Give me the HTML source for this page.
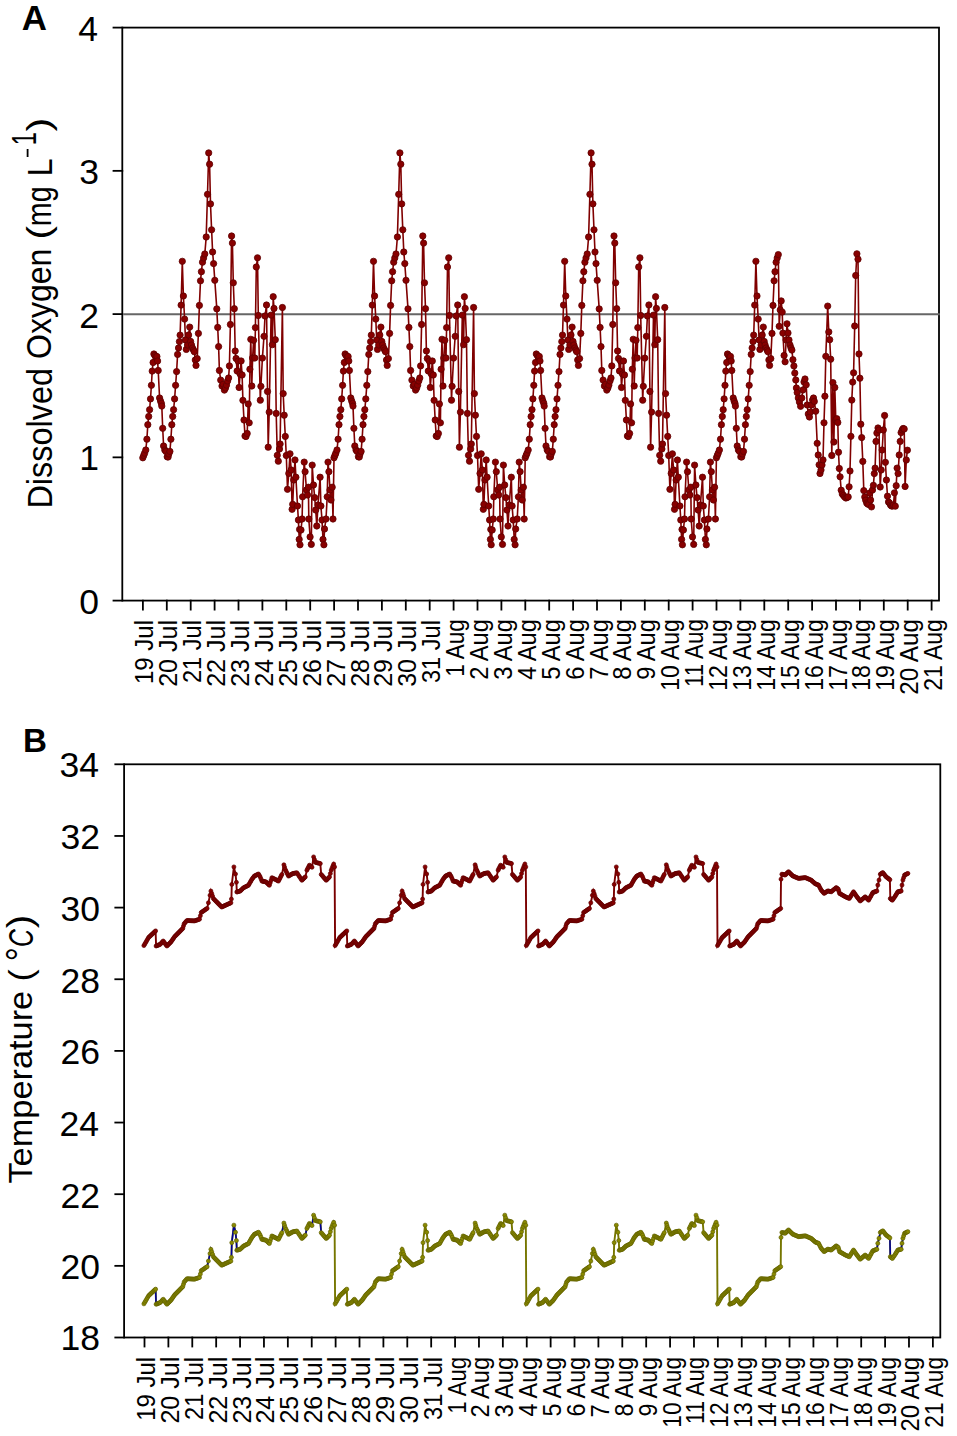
<!DOCTYPE html><html><head><meta charset="utf-8"><style>html,body{margin:0;padding:0;background:#fff;}svg{display:block;}</style></head><body>
<svg width="957" height="1436" viewBox="0 0 957 1436"><rect width="957" height="1436" fill="#fff"/>
<g stroke="#000" stroke-width="1.8" fill="none" stroke-linecap="square">
<rect x="122.3" y="27.6" width="816.7" height="573"/>
<line x1="113.5" y1="27.6" x2="122.3" y2="27.6"/>
<line x1="113.5" y1="170.85" x2="122.3" y2="170.85"/>
<line x1="113.5" y1="314.1" x2="122.3" y2="314.1"/>
<line x1="113.5" y1="457.35" x2="122.3" y2="457.35"/>
<line x1="113.5" y1="600.6" x2="122.3" y2="600.6"/>
<line x1="142.9" y1="600.6" x2="142.9" y2="609.6"/>
<line x1="166.8" y1="600.6" x2="166.8" y2="609.6"/>
<line x1="190.7" y1="600.6" x2="190.7" y2="609.6"/>
<line x1="214.6" y1="600.6" x2="214.6" y2="609.6"/>
<line x1="238.5" y1="600.6" x2="238.5" y2="609.6"/>
<line x1="262.4" y1="600.6" x2="262.4" y2="609.6"/>
<line x1="286.3" y1="600.6" x2="286.3" y2="609.6"/>
<line x1="310.2" y1="600.6" x2="310.2" y2="609.6"/>
<line x1="334.1" y1="600.6" x2="334.1" y2="609.6"/>
<line x1="358" y1="600.6" x2="358" y2="609.6"/>
<line x1="381.9" y1="600.6" x2="381.9" y2="609.6"/>
<line x1="405.8" y1="600.6" x2="405.8" y2="609.6"/>
<line x1="429.7" y1="600.6" x2="429.7" y2="609.6"/>
<line x1="453.6" y1="600.6" x2="453.6" y2="609.6"/>
<line x1="477.5" y1="600.6" x2="477.5" y2="609.6"/>
<line x1="501.4" y1="600.6" x2="501.4" y2="609.6"/>
<line x1="525.3" y1="600.6" x2="525.3" y2="609.6"/>
<line x1="549.2" y1="600.6" x2="549.2" y2="609.6"/>
<line x1="573.1" y1="600.6" x2="573.1" y2="609.6"/>
<line x1="597" y1="600.6" x2="597" y2="609.6"/>
<line x1="620.9" y1="600.6" x2="620.9" y2="609.6"/>
<line x1="644.8" y1="600.6" x2="644.8" y2="609.6"/>
<line x1="668.7" y1="600.6" x2="668.7" y2="609.6"/>
<line x1="692.6" y1="600.6" x2="692.6" y2="609.6"/>
<line x1="716.5" y1="600.6" x2="716.5" y2="609.6"/>
<line x1="740.4" y1="600.6" x2="740.4" y2="609.6"/>
<line x1="764.3" y1="600.6" x2="764.3" y2="609.6"/>
<line x1="788.2" y1="600.6" x2="788.2" y2="609.6"/>
<line x1="812.1" y1="600.6" x2="812.1" y2="609.6"/>
<line x1="836" y1="600.6" x2="836" y2="609.6"/>
<line x1="859.9" y1="600.6" x2="859.9" y2="609.6"/>
<line x1="883.8" y1="600.6" x2="883.8" y2="609.6"/>
<line x1="907.7" y1="600.6" x2="907.7" y2="609.6"/>
<line x1="931.6" y1="600.6" x2="931.6" y2="609.6"/>
</g>
<line x1="123.2" y1="314.2" x2="939.9" y2="314.2" stroke="#666" stroke-width="2"/>
<path d="M142.8 457.8 L143.7 455.5 L144.6 453.2 L145.8 450 L146.9 439.2 L147.8 424.7 L148.7 416.5 L149.6 409.7 L150.5 398.9 L151.4 385.3 L152.2 371.1 L153.1 362.5 L153.9 354 L154.9 355.5 L155.9 357 L156.9 356.5 L157.6 361 L158.2 370.5 L159.6 398 L160.5 401 L161.4 403.4 L161.8 406.1 L162.7 428.3 L163.6 446 L164.8 450 L165.9 451.4 L167.2 456.8 L168.1 457 L168.8 454 L169.9 451.4 L170.9 439.2 L171.8 424.7 L172.7 416.5 L173.6 409.7 L174.6 398.9 L175.6 385.3 L176.6 371.6 L177.6 354.4 L178.5 348 L179.4 341.6 L180.1 335.1 L181.1 305.1 L182.3 261.3 L183.4 296 L184.6 319.1 L185.5 340 L186.3 349.4 L187.5 345 L188.6 335 L189.7 327.1 L190.6 341.4 L191.5 345 L192.5 348 L193.5 350 L194.3 351.7 L195.3 360 L196 365.4 L197.2 358.6 L198.4 333.4 L199.4 305.4 L200.5 280.8 L201.4 271.7 L202.5 262.2 L203.6 258 L204.8 254 L206.2 237 L207.5 194.3 L208.7 152.9 L209.6 164.2 L210.5 203.9 L211.6 229.8 L212.6 252 L213.6 263.6 L214.8 280.3 L216.8 308.9 L217.7 327.4 L218.6 346.6 L219.4 370.5 L220.7 380.1 L222 386 L223.2 384.3 L224.4 390.1 L225.5 388 L226.5 385.1 L227.6 381 L228.6 378 L229.4 365.9 L230.4 324.5 L231.6 236 L232.4 243.1 L233.3 282.8 L234.3 308.7 L235.2 351 L236.1 358.5 L237.1 371 L238.1 361 L239.1 387.5 L240.1 374 L241.1 361 L242.1 375 L242.9 400.3 L244 420 L245 436 L246 436.5 L247.2 433.5 L248.2 404 L249.2 422.8 L249.9 369.2 L250.8 339.3 L251.8 386 L252.6 358 L253.6 340.3 L254.8 358 L255.4 327.6 L256.3 267 L257.5 257.8 L258.3 315.5 L260.3 400.2 L260.9 386.3 L262.4 358.1 L264 336.3 L265 316 L266.5 305 L267.5 391.5 L268.2 447.2 L269.2 412.1 L271.1 315.1 L272.4 344.7 L273.2 296.7 L274 308.4 L275.3 339.7 L276.2 413.4 L277.3 455.3 L278.3 461.2 L279.5 449 L280.1 444 L282.4 307.5 L283.2 393.6 L284.2 415.2 L285.3 436.4 L286.3 455.5 L287.5 489.3 L288.8 473.4 L290 453.8 L291.2 470 L292.1 509.3 L292.7 504.3 L293.7 480 L295 460 L295.9 477.2 L297.5 506 L298.4 520 L299.2 539.4 L299.6 529.4 L300 544.8 L301 530 L302.1 519 L302.6 496.8 L304.2 462.1 L305.1 471.7 L306.5 490 L307.5 495 L308.4 487.2 L308.8 519 L310.1 536.9 L311.3 544.4 L312.2 465.1 L313.5 485 L314.7 497.6 L315.7 510 L316.8 526 L318 505 L320.1 477.2 L320.9 506 L322 520 L323 539.4 L323.9 544.8 L324.5 529 L326 519 L327.2 496.8 L328 462.1 L328.9 471.7 L330 490 L331 500 L332.2 487.2 L333 519 L334 457.8 L334.9 455.5 L335.8 453.2 L337 450 L338.1 439.2 L339 424.7 L339.9 416.5 L340.8 409.7 L341.7 398.9 L342.6 385.3 L343.4 371.1 L344.3 362.5 L345.1 354 L346.1 355.5 L347.1 357 L348.1 356.5 L348.8 361 L349.4 370.5 L350.8 398 L351.7 401 L352.6 403.4 L353 406.1 L353.9 428.3 L354.8 446 L356 450 L357.1 451.4 L358.4 456.8 L359.3 457 L360 454 L361.1 451.4 L362.1 439.2 L363 424.7 L363.9 416.5 L364.8 409.7 L365.8 398.9 L366.8 385.3 L367.8 371.6 L368.8 354.4 L369.7 348 L370.6 341.6 L371.3 335.1 L372.3 305.1 L373.5 261.3 L374.6 296 L375.8 319.1 L376.7 340 L377.5 349.4 L378.7 345 L379.8 335 L380.9 327.1 L381.8 341.4 L382.7 345 L383.7 348 L384.7 350 L385.5 351.7 L386.5 360 L387.2 365.4 L388.4 358.6 L389.6 333.4 L390.6 305.4 L391.7 280.8 L392.6 271.7 L393.7 262.2 L394.8 258 L396 254 L397.4 237 L398.7 194.3 L399.9 152.9 L400.8 164.2 L401.7 203.9 L402.8 229.8 L403.8 252 L404.8 263.6 L406 280.3 L408 308.9 L408.9 327.4 L409.8 346.6 L410.6 370.5 L411.9 380.1 L413.2 386 L414.4 384.3 L415.6 390.1 L416.7 388 L417.7 385.1 L418.8 381 L419.8 378 L420.6 365.9 L421.6 324.5 L422.8 236 L423.6 243.1 L424.5 282.8 L425.5 308.7 L426.4 351 L427.3 358.5 L428.3 371 L429.3 361 L430.3 387.5 L431.3 374 L432.3 361 L433.3 375 L434.1 400.3 L435.2 420 L436.2 436 L437.2 436.5 L438.4 433.5 L439.4 404 L440.4 422.8 L441.1 369.2 L442 339.3 L443 386 L443.8 358 L444.8 340.3 L446 358 L446.6 327.6 L447.5 267 L448.7 257.8 L449.5 315.5 L451.5 400.2 L452.1 386.3 L453.6 358.1 L455.2 336.3 L456.2 316 L457.7 305 L458.7 391.5 L459.4 447.2 L460.4 412.1 L462.3 315.1 L463.6 344.7 L464.4 296.7 L465.2 308.4 L466.5 339.7 L467.4 413.4 L468.5 455.3 L469.5 461.2 L470.7 449 L471.3 444 L473.6 307.5 L474.4 393.6 L475.4 415.2 L476.5 436.4 L477.5 455.5 L478.7 489.3 L480 473.4 L481.2 453.8 L482.4 470 L483.3 509.3 L483.9 504.3 L484.9 480 L486.2 460 L487.1 477.2 L488.7 506 L489.6 520 L490.4 539.4 L490.8 529.4 L491.2 544.8 L492.2 530 L493.3 519 L493.8 496.8 L495.4 462.1 L496.3 471.7 L497.7 490 L498.7 495 L499.6 487.2 L500 519 L501.3 536.9 L502.5 544.4 L503.4 465.1 L504.7 485 L505.9 497.6 L506.9 510 L508 526 L509.2 505 L511.3 477.2 L512.1 506 L513.2 520 L514.2 539.4 L515.1 544.8 L515.7 529 L517.2 519 L518.4 496.8 L519.2 462.1 L520.1 471.7 L521.2 490 L522.2 500 L523.4 487.2 L524.2 519 L525.2 457.8 L526.1 455.5 L527 453.2 L528.2 450 L529.3 439.2 L530.2 424.7 L531.1 416.5 L532 409.7 L532.9 398.9 L533.8 385.3 L534.6 371.1 L535.5 362.5 L536.3 354 L537.3 355.5 L538.3 357 L539.3 356.5 L540 361 L540.6 370.5 L542 398 L542.9 401 L543.8 403.4 L544.2 406.1 L545.1 428.3 L546 446 L547.2 450 L548.3 451.4 L549.6 456.8 L550.5 457 L551.2 454 L552.3 451.4 L553.3 439.2 L554.2 424.7 L555.1 416.5 L556 409.7 L557 398.9 L558 385.3 L559 371.6 L560 354.4 L560.9 348 L561.8 341.6 L562.5 335.1 L563.5 305.1 L564.7 261.3 L565.8 296 L567 319.1 L567.9 340 L568.7 349.4 L569.9 345 L571 335 L572.1 327.1 L573 341.4 L573.9 345 L574.9 348 L575.9 350 L576.7 351.7 L577.7 360 L578.4 365.4 L579.6 358.6 L580.8 333.4 L581.8 305.4 L582.9 280.8 L583.8 271.7 L584.9 262.2 L586 258 L587.2 254 L588.6 237 L589.9 194.3 L591.1 152.9 L592 164.2 L592.9 203.9 L594 229.8 L595 252 L596 263.6 L597.2 280.3 L599.2 308.9 L600.1 327.4 L601 346.6 L601.8 370.5 L603.1 380.1 L604.4 386 L605.6 384.3 L606.8 390.1 L607.9 388 L608.9 385.1 L610 381 L611 378 L611.8 365.9 L612.8 324.5 L614 236 L614.8 243.1 L615.7 282.8 L616.7 308.7 L617.6 351 L618.5 358.5 L619.5 371 L620.5 361 L621.5 387.5 L622.5 374 L623.5 361 L624.5 375 L625.3 400.3 L626.4 420 L627.4 436 L628.4 436.5 L629.6 433.5 L630.6 404 L631.6 422.8 L632.3 369.2 L633.2 339.3 L634.2 386 L635 358 L636 340.3 L637.2 358 L637.8 327.6 L638.7 267 L639.9 257.8 L640.7 315.5 L642.7 400.2 L643.3 386.3 L644.8 358.1 L646.4 336.3 L647.4 316 L648.9 305 L649.9 391.5 L650.6 447.2 L651.6 412.1 L653.5 315.1 L654.8 344.7 L655.6 296.7 L656.4 308.4 L657.7 339.7 L658.6 413.4 L659.7 455.3 L660.7 461.2 L661.9 449 L662.5 444 L664.8 307.5 L665.6 393.6 L666.6 415.2 L667.7 436.4 L668.7 455.5 L669.9 489.3 L671.2 473.4 L672.4 453.8 L673.6 470 L674.5 509.3 L675.1 504.3 L676.1 480 L677.4 460 L678.3 477.2 L679.9 506 L680.8 520 L681.6 539.4 L682 529.4 L682.4 544.8 L683.4 530 L684.5 519 L685 496.8 L686.6 462.1 L687.5 471.7 L688.9 490 L689.9 495 L690.8 487.2 L691.2 519 L692.5 536.9 L693.7 544.4 L694.6 465.1 L695.9 485 L697.1 497.6 L698.1 510 L699.2 526 L700.4 505 L702.5 477.2 L703.3 506 L704.4 520 L705.4 539.4 L706.3 544.8 L706.9 529 L708.4 519 L709.6 496.8 L710.4 462.1 L711.3 471.7 L712.4 490 L713.4 500 L714.6 487.2 L715.4 519 L716.4 457.8 L717.3 455.5 L718.2 453.2 L719.4 450 L720.5 439.2 L721.4 424.7 L722.3 416.5 L723.2 409.7 L724.1 398.9 L725 385.3 L725.8 371.1 L726.7 362.5 L727.5 354 L728.5 355.5 L729.5 357 L730.5 356.5 L731.2 361 L731.8 370.5 L733.2 398 L734.1 401 L735 403.4 L735.4 406.1 L736.3 428.3 L737.2 446 L738.4 450 L739.5 451.4 L740.8 456.8 L741.7 457 L742.4 454 L743.5 451.4 L744.5 439.2 L745.4 424.7 L746.3 416.5 L747.2 409.7 L748.2 398.9 L749.2 385.3 L750.2 371.6 L751.2 354.4 L752.1 348 L753 341.6 L753.7 335.1 L754.7 305.1 L755.9 261.3 L757 296 L758.2 319.1 L759.1 340 L759.9 349.4 L761.1 345 L762.2 335 L763.3 327.1 L764.2 341.4 L765.1 345 L766.1 348 L767.1 350 L767.9 351.7 L768.9 360 L769.6 365.4 L770.8 358.6 L772 333.4 L773 305.4 L774.1 280.8 L775 271.7 L776.1 262.2 L777.2 258 L778.3 254.6 L779.2 326.3 L780.2 310 L781.2 300.9 L782.2 312.1 L782.9 333.1 L784.1 355.5 L785.1 361.8 L786.1 340 L787 323.8 L788 333 L789 340 L790 345 L791 348 L791.9 350.1 L792.9 359.7 L793.9 366 L794.8 373.1 L795.8 380 L796.4 388 L797.2 392.6 L798.3 398 L799.4 402 L800.6 406.3 L801.8 398 L802.9 390 L804 382 L805 379 L806.2 384.8 L807.2 405 L808.3 414 L809.4 417 L810.5 412 L811.6 405 L812.6 400 L813.5 398 L814.3 401.4 L815.7 411.2 L817.2 443.3 L818.2 455 L819.1 464.8 L820 473.5 L821 470 L822 465 L823 459.9 L824 422.8 L824.9 396.2 L825.8 356.3 L827.7 306.1 L828.8 331.9 L829.7 339.7 L830.7 359.2 L831.8 455.5 L832.9 382.6 L833.9 442 L834.8 387.5 L835.8 420 L836.8 418.7 L837.8 422.5 L838.5 452.2 L839.3 468.5 L840.1 476.8 L841.2 490.2 L842.3 494 L843.5 495.5 L844.7 497 L845.9 498 L847.1 497.5 L848.2 496.9 L849.1 486.8 L850 471 L850.9 436.3 L851.8 400.1 L852.7 382.1 L853.6 372.8 L854.7 326 L855.7 275.5 L856.9 253.8 L858 259.2 L859 354 L859.9 378.2 L860.8 424.2 L861.7 437.6 L862.8 461.4 L863.8 490.6 L864.8 497 L865.7 500.2 L866.7 503 L867.7 504 L868.7 504.4 L869.7 493 L870.6 500 L871.5 506.9 L872.5 490 L873.4 485.3 L874.3 473.6 L875.1 468.1 L876 441.4 L876.9 433 L878 428 L879 430 L880.2 487 L881.2 470 L882.2 450 L883.3 430 L884.6 415.5 L885.4 462.3 L886.4 480 L887.5 496.2 L888.5 502 L889.5 503 L890.5 505 L891.5 506 L892.5 506 L893.5 505 L894.4 492.8 L895.3 506.2 L896.2 485.7 L897.1 468.1 L898.1 473.6 L899.2 455 L900.2 441.4 L901.1 432.6 L902.2 430 L903.2 428.5 L904.2 429 L905.1 486.5 L906.3 460 L907.4 450.2" fill="none" stroke="#800000" stroke-width="1.6" stroke-linejoin="round"/>
<g fill="#880000" stroke="#5e0000" stroke-width="0.8"><circle cx="142.8" cy="457.8" r="3.15"/><circle cx="143.7" cy="455.5" r="3.15"/><circle cx="144.6" cy="453.2" r="3.15"/><circle cx="145.8" cy="450" r="3.15"/><circle cx="146.9" cy="439.2" r="3.15"/><circle cx="147.8" cy="424.7" r="3.15"/><circle cx="148.7" cy="416.5" r="3.15"/><circle cx="149.6" cy="409.7" r="3.15"/><circle cx="150.5" cy="398.9" r="3.15"/><circle cx="151.4" cy="385.3" r="3.15"/><circle cx="152.2" cy="371.1" r="3.15"/><circle cx="153.1" cy="362.5" r="3.15"/><circle cx="153.9" cy="354" r="3.15"/><circle cx="154.9" cy="355.5" r="3.15"/><circle cx="155.9" cy="357" r="3.15"/><circle cx="156.9" cy="356.5" r="3.15"/><circle cx="157.6" cy="361" r="3.15"/><circle cx="158.2" cy="370.5" r="3.15"/><circle cx="159.6" cy="398" r="3.15"/><circle cx="160.5" cy="401" r="3.15"/><circle cx="161.4" cy="403.4" r="3.15"/><circle cx="161.8" cy="406.1" r="3.15"/><circle cx="162.7" cy="428.3" r="3.15"/><circle cx="163.6" cy="446" r="3.15"/><circle cx="164.8" cy="450" r="3.15"/><circle cx="165.9" cy="451.4" r="3.15"/><circle cx="167.2" cy="456.8" r="3.15"/><circle cx="168.1" cy="457" r="3.15"/><circle cx="168.8" cy="454" r="3.15"/><circle cx="169.9" cy="451.4" r="3.15"/><circle cx="170.9" cy="439.2" r="3.15"/><circle cx="171.8" cy="424.7" r="3.15"/><circle cx="172.7" cy="416.5" r="3.15"/><circle cx="173.6" cy="409.7" r="3.15"/><circle cx="174.6" cy="398.9" r="3.15"/><circle cx="175.6" cy="385.3" r="3.15"/><circle cx="176.6" cy="371.6" r="3.15"/><circle cx="177.6" cy="354.4" r="3.15"/><circle cx="178.5" cy="348" r="3.15"/><circle cx="179.4" cy="341.6" r="3.15"/><circle cx="180.1" cy="335.1" r="3.15"/><circle cx="181.1" cy="305.1" r="3.15"/><circle cx="182.3" cy="261.3" r="3.15"/><circle cx="183.4" cy="296" r="3.15"/><circle cx="184.6" cy="319.1" r="3.15"/><circle cx="185.5" cy="340" r="3.15"/><circle cx="186.3" cy="349.4" r="3.15"/><circle cx="187.5" cy="345" r="3.15"/><circle cx="188.6" cy="335" r="3.15"/><circle cx="189.7" cy="327.1" r="3.15"/><circle cx="190.6" cy="341.4" r="3.15"/><circle cx="191.5" cy="345" r="3.15"/><circle cx="192.5" cy="348" r="3.15"/><circle cx="193.5" cy="350" r="3.15"/><circle cx="194.3" cy="351.7" r="3.15"/><circle cx="195.3" cy="360" r="3.15"/><circle cx="196" cy="365.4" r="3.15"/><circle cx="197.2" cy="358.6" r="3.15"/><circle cx="198.4" cy="333.4" r="3.15"/><circle cx="199.4" cy="305.4" r="3.15"/><circle cx="200.5" cy="280.8" r="3.15"/><circle cx="201.4" cy="271.7" r="3.15"/><circle cx="202.5" cy="262.2" r="3.15"/><circle cx="203.6" cy="258" r="3.15"/><circle cx="204.8" cy="254" r="3.15"/><circle cx="206.2" cy="237" r="3.15"/><circle cx="207.5" cy="194.3" r="3.15"/><circle cx="208.7" cy="152.9" r="3.15"/><circle cx="209.6" cy="164.2" r="3.15"/><circle cx="210.5" cy="203.9" r="3.15"/><circle cx="211.6" cy="229.8" r="3.15"/><circle cx="212.6" cy="252" r="3.15"/><circle cx="213.6" cy="263.6" r="3.15"/><circle cx="214.8" cy="280.3" r="3.15"/><circle cx="216.8" cy="308.9" r="3.15"/><circle cx="217.7" cy="327.4" r="3.15"/><circle cx="218.6" cy="346.6" r="3.15"/><circle cx="219.4" cy="370.5" r="3.15"/><circle cx="220.7" cy="380.1" r="3.15"/><circle cx="222" cy="386" r="3.15"/><circle cx="223.2" cy="384.3" r="3.15"/><circle cx="224.4" cy="390.1" r="3.15"/><circle cx="225.5" cy="388" r="3.15"/><circle cx="226.5" cy="385.1" r="3.15"/><circle cx="227.6" cy="381" r="3.15"/><circle cx="228.6" cy="378" r="3.15"/><circle cx="229.4" cy="365.9" r="3.15"/><circle cx="230.4" cy="324.5" r="3.15"/><circle cx="231.6" cy="236" r="3.15"/><circle cx="232.4" cy="243.1" r="3.15"/><circle cx="233.3" cy="282.8" r="3.15"/><circle cx="234.3" cy="308.7" r="3.15"/><circle cx="235.2" cy="351" r="3.15"/><circle cx="236.1" cy="358.5" r="3.15"/><circle cx="237.1" cy="371" r="3.15"/><circle cx="238.1" cy="361" r="3.15"/><circle cx="239.1" cy="387.5" r="3.15"/><circle cx="240.1" cy="374" r="3.15"/><circle cx="241.1" cy="361" r="3.15"/><circle cx="242.1" cy="375" r="3.15"/><circle cx="242.9" cy="400.3" r="3.15"/><circle cx="244" cy="420" r="3.15"/><circle cx="245" cy="436" r="3.15"/><circle cx="246" cy="436.5" r="3.15"/><circle cx="247.2" cy="433.5" r="3.15"/><circle cx="248.2" cy="404" r="3.15"/><circle cx="249.2" cy="422.8" r="3.15"/><circle cx="249.9" cy="369.2" r="3.15"/><circle cx="250.8" cy="339.3" r="3.15"/><circle cx="251.8" cy="386" r="3.15"/><circle cx="252.6" cy="358" r="3.15"/><circle cx="253.6" cy="340.3" r="3.15"/><circle cx="254.8" cy="358" r="3.15"/><circle cx="255.4" cy="327.6" r="3.15"/><circle cx="256.3" cy="267" r="3.15"/><circle cx="257.5" cy="257.8" r="3.15"/><circle cx="258.3" cy="315.5" r="3.15"/><circle cx="260.3" cy="400.2" r="3.15"/><circle cx="260.9" cy="386.3" r="3.15"/><circle cx="262.4" cy="358.1" r="3.15"/><circle cx="264" cy="336.3" r="3.15"/><circle cx="265" cy="316" r="3.15"/><circle cx="266.5" cy="305" r="3.15"/><circle cx="267.5" cy="391.5" r="3.15"/><circle cx="268.2" cy="447.2" r="3.15"/><circle cx="269.2" cy="412.1" r="3.15"/><circle cx="271.1" cy="315.1" r="3.15"/><circle cx="272.4" cy="344.7" r="3.15"/><circle cx="273.2" cy="296.7" r="3.15"/><circle cx="274" cy="308.4" r="3.15"/><circle cx="275.3" cy="339.7" r="3.15"/><circle cx="276.2" cy="413.4" r="3.15"/><circle cx="277.3" cy="455.3" r="3.15"/><circle cx="278.3" cy="461.2" r="3.15"/><circle cx="279.5" cy="449" r="3.15"/><circle cx="280.1" cy="444" r="3.15"/><circle cx="282.4" cy="307.5" r="3.15"/><circle cx="283.2" cy="393.6" r="3.15"/><circle cx="284.2" cy="415.2" r="3.15"/><circle cx="285.3" cy="436.4" r="3.15"/><circle cx="286.3" cy="455.5" r="3.15"/><circle cx="287.5" cy="489.3" r="3.15"/><circle cx="288.8" cy="473.4" r="3.15"/><circle cx="290" cy="453.8" r="3.15"/><circle cx="291.2" cy="470" r="3.15"/><circle cx="292.1" cy="509.3" r="3.15"/><circle cx="292.7" cy="504.3" r="3.15"/><circle cx="293.7" cy="480" r="3.15"/><circle cx="295" cy="460" r="3.15"/><circle cx="295.9" cy="477.2" r="3.15"/><circle cx="297.5" cy="506" r="3.15"/><circle cx="298.4" cy="520" r="3.15"/><circle cx="299.2" cy="539.4" r="3.15"/><circle cx="299.6" cy="529.4" r="3.15"/><circle cx="300" cy="544.8" r="3.15"/><circle cx="301" cy="530" r="3.15"/><circle cx="302.1" cy="519" r="3.15"/><circle cx="302.6" cy="496.8" r="3.15"/><circle cx="304.2" cy="462.1" r="3.15"/><circle cx="305.1" cy="471.7" r="3.15"/><circle cx="306.5" cy="490" r="3.15"/><circle cx="307.5" cy="495" r="3.15"/><circle cx="308.4" cy="487.2" r="3.15"/><circle cx="308.8" cy="519" r="3.15"/><circle cx="310.1" cy="536.9" r="3.15"/><circle cx="311.3" cy="544.4" r="3.15"/><circle cx="312.2" cy="465.1" r="3.15"/><circle cx="313.5" cy="485" r="3.15"/><circle cx="314.7" cy="497.6" r="3.15"/><circle cx="315.7" cy="510" r="3.15"/><circle cx="316.8" cy="526" r="3.15"/><circle cx="318" cy="505" r="3.15"/><circle cx="320.1" cy="477.2" r="3.15"/><circle cx="320.9" cy="506" r="3.15"/><circle cx="322" cy="520" r="3.15"/><circle cx="323" cy="539.4" r="3.15"/><circle cx="323.9" cy="544.8" r="3.15"/><circle cx="324.5" cy="529" r="3.15"/><circle cx="326" cy="519" r="3.15"/><circle cx="327.2" cy="496.8" r="3.15"/><circle cx="328" cy="462.1" r="3.15"/><circle cx="328.9" cy="471.7" r="3.15"/><circle cx="330" cy="490" r="3.15"/><circle cx="331" cy="500" r="3.15"/><circle cx="332.2" cy="487.2" r="3.15"/><circle cx="333" cy="519" r="3.15"/><circle cx="334" cy="457.8" r="3.15"/><circle cx="334.9" cy="455.5" r="3.15"/><circle cx="335.8" cy="453.2" r="3.15"/><circle cx="337" cy="450" r="3.15"/><circle cx="338.1" cy="439.2" r="3.15"/><circle cx="339" cy="424.7" r="3.15"/><circle cx="339.9" cy="416.5" r="3.15"/><circle cx="340.8" cy="409.7" r="3.15"/><circle cx="341.7" cy="398.9" r="3.15"/><circle cx="342.6" cy="385.3" r="3.15"/><circle cx="343.4" cy="371.1" r="3.15"/><circle cx="344.3" cy="362.5" r="3.15"/><circle cx="345.1" cy="354" r="3.15"/><circle cx="346.1" cy="355.5" r="3.15"/><circle cx="347.1" cy="357" r="3.15"/><circle cx="348.1" cy="356.5" r="3.15"/><circle cx="348.8" cy="361" r="3.15"/><circle cx="349.4" cy="370.5" r="3.15"/><circle cx="350.8" cy="398" r="3.15"/><circle cx="351.7" cy="401" r="3.15"/><circle cx="352.6" cy="403.4" r="3.15"/><circle cx="353" cy="406.1" r="3.15"/><circle cx="353.9" cy="428.3" r="3.15"/><circle cx="354.8" cy="446" r="3.15"/><circle cx="356" cy="450" r="3.15"/><circle cx="357.1" cy="451.4" r="3.15"/><circle cx="358.4" cy="456.8" r="3.15"/><circle cx="359.3" cy="457" r="3.15"/><circle cx="360" cy="454" r="3.15"/><circle cx="361.1" cy="451.4" r="3.15"/><circle cx="362.1" cy="439.2" r="3.15"/><circle cx="363" cy="424.7" r="3.15"/><circle cx="363.9" cy="416.5" r="3.15"/><circle cx="364.8" cy="409.7" r="3.15"/><circle cx="365.8" cy="398.9" r="3.15"/><circle cx="366.8" cy="385.3" r="3.15"/><circle cx="367.8" cy="371.6" r="3.15"/><circle cx="368.8" cy="354.4" r="3.15"/><circle cx="369.7" cy="348" r="3.15"/><circle cx="370.6" cy="341.6" r="3.15"/><circle cx="371.3" cy="335.1" r="3.15"/><circle cx="372.3" cy="305.1" r="3.15"/><circle cx="373.5" cy="261.3" r="3.15"/><circle cx="374.6" cy="296" r="3.15"/><circle cx="375.8" cy="319.1" r="3.15"/><circle cx="376.7" cy="340" r="3.15"/><circle cx="377.5" cy="349.4" r="3.15"/><circle cx="378.7" cy="345" r="3.15"/><circle cx="379.8" cy="335" r="3.15"/><circle cx="380.9" cy="327.1" r="3.15"/><circle cx="381.8" cy="341.4" r="3.15"/><circle cx="382.7" cy="345" r="3.15"/><circle cx="383.7" cy="348" r="3.15"/><circle cx="384.7" cy="350" r="3.15"/><circle cx="385.5" cy="351.7" r="3.15"/><circle cx="386.5" cy="360" r="3.15"/><circle cx="387.2" cy="365.4" r="3.15"/><circle cx="388.4" cy="358.6" r="3.15"/><circle cx="389.6" cy="333.4" r="3.15"/><circle cx="390.6" cy="305.4" r="3.15"/><circle cx="391.7" cy="280.8" r="3.15"/><circle cx="392.6" cy="271.7" r="3.15"/><circle cx="393.7" cy="262.2" r="3.15"/><circle cx="394.8" cy="258" r="3.15"/><circle cx="396" cy="254" r="3.15"/><circle cx="397.4" cy="237" r="3.15"/><circle cx="398.7" cy="194.3" r="3.15"/><circle cx="399.9" cy="152.9" r="3.15"/><circle cx="400.8" cy="164.2" r="3.15"/><circle cx="401.7" cy="203.9" r="3.15"/><circle cx="402.8" cy="229.8" r="3.15"/><circle cx="403.8" cy="252" r="3.15"/><circle cx="404.8" cy="263.6" r="3.15"/><circle cx="406" cy="280.3" r="3.15"/><circle cx="408" cy="308.9" r="3.15"/><circle cx="408.9" cy="327.4" r="3.15"/><circle cx="409.8" cy="346.6" r="3.15"/><circle cx="410.6" cy="370.5" r="3.15"/><circle cx="411.9" cy="380.1" r="3.15"/><circle cx="413.2" cy="386" r="3.15"/><circle cx="414.4" cy="384.3" r="3.15"/><circle cx="415.6" cy="390.1" r="3.15"/><circle cx="416.7" cy="388" r="3.15"/><circle cx="417.7" cy="385.1" r="3.15"/><circle cx="418.8" cy="381" r="3.15"/><circle cx="419.8" cy="378" r="3.15"/><circle cx="420.6" cy="365.9" r="3.15"/><circle cx="421.6" cy="324.5" r="3.15"/><circle cx="422.8" cy="236" r="3.15"/><circle cx="423.6" cy="243.1" r="3.15"/><circle cx="424.5" cy="282.8" r="3.15"/><circle cx="425.5" cy="308.7" r="3.15"/><circle cx="426.4" cy="351" r="3.15"/><circle cx="427.3" cy="358.5" r="3.15"/><circle cx="428.3" cy="371" r="3.15"/><circle cx="429.3" cy="361" r="3.15"/><circle cx="430.3" cy="387.5" r="3.15"/><circle cx="431.3" cy="374" r="3.15"/><circle cx="432.3" cy="361" r="3.15"/><circle cx="433.3" cy="375" r="3.15"/><circle cx="434.1" cy="400.3" r="3.15"/><circle cx="435.2" cy="420" r="3.15"/><circle cx="436.2" cy="436" r="3.15"/><circle cx="437.2" cy="436.5" r="3.15"/><circle cx="438.4" cy="433.5" r="3.15"/><circle cx="439.4" cy="404" r="3.15"/><circle cx="440.4" cy="422.8" r="3.15"/><circle cx="441.1" cy="369.2" r="3.15"/><circle cx="442" cy="339.3" r="3.15"/><circle cx="443" cy="386" r="3.15"/><circle cx="443.8" cy="358" r="3.15"/><circle cx="444.8" cy="340.3" r="3.15"/><circle cx="446" cy="358" r="3.15"/><circle cx="446.6" cy="327.6" r="3.15"/><circle cx="447.5" cy="267" r="3.15"/><circle cx="448.7" cy="257.8" r="3.15"/><circle cx="449.5" cy="315.5" r="3.15"/><circle cx="451.5" cy="400.2" r="3.15"/><circle cx="452.1" cy="386.3" r="3.15"/><circle cx="453.6" cy="358.1" r="3.15"/><circle cx="455.2" cy="336.3" r="3.15"/><circle cx="456.2" cy="316" r="3.15"/><circle cx="457.7" cy="305" r="3.15"/><circle cx="458.7" cy="391.5" r="3.15"/><circle cx="459.4" cy="447.2" r="3.15"/><circle cx="460.4" cy="412.1" r="3.15"/><circle cx="462.3" cy="315.1" r="3.15"/><circle cx="463.6" cy="344.7" r="3.15"/><circle cx="464.4" cy="296.7" r="3.15"/><circle cx="465.2" cy="308.4" r="3.15"/><circle cx="466.5" cy="339.7" r="3.15"/><circle cx="467.4" cy="413.4" r="3.15"/><circle cx="468.5" cy="455.3" r="3.15"/><circle cx="469.5" cy="461.2" r="3.15"/><circle cx="470.7" cy="449" r="3.15"/><circle cx="471.3" cy="444" r="3.15"/><circle cx="473.6" cy="307.5" r="3.15"/><circle cx="474.4" cy="393.6" r="3.15"/><circle cx="475.4" cy="415.2" r="3.15"/><circle cx="476.5" cy="436.4" r="3.15"/><circle cx="477.5" cy="455.5" r="3.15"/><circle cx="478.7" cy="489.3" r="3.15"/><circle cx="480" cy="473.4" r="3.15"/><circle cx="481.2" cy="453.8" r="3.15"/><circle cx="482.4" cy="470" r="3.15"/><circle cx="483.3" cy="509.3" r="3.15"/><circle cx="483.9" cy="504.3" r="3.15"/><circle cx="484.9" cy="480" r="3.15"/><circle cx="486.2" cy="460" r="3.15"/><circle cx="487.1" cy="477.2" r="3.15"/><circle cx="488.7" cy="506" r="3.15"/><circle cx="489.6" cy="520" r="3.15"/><circle cx="490.4" cy="539.4" r="3.15"/><circle cx="490.8" cy="529.4" r="3.15"/><circle cx="491.2" cy="544.8" r="3.15"/><circle cx="492.2" cy="530" r="3.15"/><circle cx="493.3" cy="519" r="3.15"/><circle cx="493.8" cy="496.8" r="3.15"/><circle cx="495.4" cy="462.1" r="3.15"/><circle cx="496.3" cy="471.7" r="3.15"/><circle cx="497.7" cy="490" r="3.15"/><circle cx="498.7" cy="495" r="3.15"/><circle cx="499.6" cy="487.2" r="3.15"/><circle cx="500" cy="519" r="3.15"/><circle cx="501.3" cy="536.9" r="3.15"/><circle cx="502.5" cy="544.4" r="3.15"/><circle cx="503.4" cy="465.1" r="3.15"/><circle cx="504.7" cy="485" r="3.15"/><circle cx="505.9" cy="497.6" r="3.15"/><circle cx="506.9" cy="510" r="3.15"/><circle cx="508" cy="526" r="3.15"/><circle cx="509.2" cy="505" r="3.15"/><circle cx="511.3" cy="477.2" r="3.15"/><circle cx="512.1" cy="506" r="3.15"/><circle cx="513.2" cy="520" r="3.15"/><circle cx="514.2" cy="539.4" r="3.15"/><circle cx="515.1" cy="544.8" r="3.15"/><circle cx="515.7" cy="529" r="3.15"/><circle cx="517.2" cy="519" r="3.15"/><circle cx="518.4" cy="496.8" r="3.15"/><circle cx="519.2" cy="462.1" r="3.15"/><circle cx="520.1" cy="471.7" r="3.15"/><circle cx="521.2" cy="490" r="3.15"/><circle cx="522.2" cy="500" r="3.15"/><circle cx="523.4" cy="487.2" r="3.15"/><circle cx="524.2" cy="519" r="3.15"/><circle cx="525.2" cy="457.8" r="3.15"/><circle cx="526.1" cy="455.5" r="3.15"/><circle cx="527" cy="453.2" r="3.15"/><circle cx="528.2" cy="450" r="3.15"/><circle cx="529.3" cy="439.2" r="3.15"/><circle cx="530.2" cy="424.7" r="3.15"/><circle cx="531.1" cy="416.5" r="3.15"/><circle cx="532" cy="409.7" r="3.15"/><circle cx="532.9" cy="398.9" r="3.15"/><circle cx="533.8" cy="385.3" r="3.15"/><circle cx="534.6" cy="371.1" r="3.15"/><circle cx="535.5" cy="362.5" r="3.15"/><circle cx="536.3" cy="354" r="3.15"/><circle cx="537.3" cy="355.5" r="3.15"/><circle cx="538.3" cy="357" r="3.15"/><circle cx="539.3" cy="356.5" r="3.15"/><circle cx="540" cy="361" r="3.15"/><circle cx="540.6" cy="370.5" r="3.15"/><circle cx="542" cy="398" r="3.15"/><circle cx="542.9" cy="401" r="3.15"/><circle cx="543.8" cy="403.4" r="3.15"/><circle cx="544.2" cy="406.1" r="3.15"/><circle cx="545.1" cy="428.3" r="3.15"/><circle cx="546" cy="446" r="3.15"/><circle cx="547.2" cy="450" r="3.15"/><circle cx="548.3" cy="451.4" r="3.15"/><circle cx="549.6" cy="456.8" r="3.15"/><circle cx="550.5" cy="457" r="3.15"/><circle cx="551.2" cy="454" r="3.15"/><circle cx="552.3" cy="451.4" r="3.15"/><circle cx="553.3" cy="439.2" r="3.15"/><circle cx="554.2" cy="424.7" r="3.15"/><circle cx="555.1" cy="416.5" r="3.15"/><circle cx="556" cy="409.7" r="3.15"/><circle cx="557" cy="398.9" r="3.15"/><circle cx="558" cy="385.3" r="3.15"/><circle cx="559" cy="371.6" r="3.15"/><circle cx="560" cy="354.4" r="3.15"/><circle cx="560.9" cy="348" r="3.15"/><circle cx="561.8" cy="341.6" r="3.15"/><circle cx="562.5" cy="335.1" r="3.15"/><circle cx="563.5" cy="305.1" r="3.15"/><circle cx="564.7" cy="261.3" r="3.15"/><circle cx="565.8" cy="296" r="3.15"/><circle cx="567" cy="319.1" r="3.15"/><circle cx="567.9" cy="340" r="3.15"/><circle cx="568.7" cy="349.4" r="3.15"/><circle cx="569.9" cy="345" r="3.15"/><circle cx="571" cy="335" r="3.15"/><circle cx="572.1" cy="327.1" r="3.15"/><circle cx="573" cy="341.4" r="3.15"/><circle cx="573.9" cy="345" r="3.15"/><circle cx="574.9" cy="348" r="3.15"/><circle cx="575.9" cy="350" r="3.15"/><circle cx="576.7" cy="351.7" r="3.15"/><circle cx="577.7" cy="360" r="3.15"/><circle cx="578.4" cy="365.4" r="3.15"/><circle cx="579.6" cy="358.6" r="3.15"/><circle cx="580.8" cy="333.4" r="3.15"/><circle cx="581.8" cy="305.4" r="3.15"/><circle cx="582.9" cy="280.8" r="3.15"/><circle cx="583.8" cy="271.7" r="3.15"/><circle cx="584.9" cy="262.2" r="3.15"/><circle cx="586" cy="258" r="3.15"/><circle cx="587.2" cy="254" r="3.15"/><circle cx="588.6" cy="237" r="3.15"/><circle cx="589.9" cy="194.3" r="3.15"/><circle cx="591.1" cy="152.9" r="3.15"/><circle cx="592" cy="164.2" r="3.15"/><circle cx="592.9" cy="203.9" r="3.15"/><circle cx="594" cy="229.8" r="3.15"/><circle cx="595" cy="252" r="3.15"/><circle cx="596" cy="263.6" r="3.15"/><circle cx="597.2" cy="280.3" r="3.15"/><circle cx="599.2" cy="308.9" r="3.15"/><circle cx="600.1" cy="327.4" r="3.15"/><circle cx="601" cy="346.6" r="3.15"/><circle cx="601.8" cy="370.5" r="3.15"/><circle cx="603.1" cy="380.1" r="3.15"/><circle cx="604.4" cy="386" r="3.15"/><circle cx="605.6" cy="384.3" r="3.15"/><circle cx="606.8" cy="390.1" r="3.15"/><circle cx="607.9" cy="388" r="3.15"/><circle cx="608.9" cy="385.1" r="3.15"/><circle cx="610" cy="381" r="3.15"/><circle cx="611" cy="378" r="3.15"/><circle cx="611.8" cy="365.9" r="3.15"/><circle cx="612.8" cy="324.5" r="3.15"/><circle cx="614" cy="236" r="3.15"/><circle cx="614.8" cy="243.1" r="3.15"/><circle cx="615.7" cy="282.8" r="3.15"/><circle cx="616.7" cy="308.7" r="3.15"/><circle cx="617.6" cy="351" r="3.15"/><circle cx="618.5" cy="358.5" r="3.15"/><circle cx="619.5" cy="371" r="3.15"/><circle cx="620.5" cy="361" r="3.15"/><circle cx="621.5" cy="387.5" r="3.15"/><circle cx="622.5" cy="374" r="3.15"/><circle cx="623.5" cy="361" r="3.15"/><circle cx="624.5" cy="375" r="3.15"/><circle cx="625.3" cy="400.3" r="3.15"/><circle cx="626.4" cy="420" r="3.15"/><circle cx="627.4" cy="436" r="3.15"/><circle cx="628.4" cy="436.5" r="3.15"/><circle cx="629.6" cy="433.5" r="3.15"/><circle cx="630.6" cy="404" r="3.15"/><circle cx="631.6" cy="422.8" r="3.15"/><circle cx="632.3" cy="369.2" r="3.15"/><circle cx="633.2" cy="339.3" r="3.15"/><circle cx="634.2" cy="386" r="3.15"/><circle cx="635" cy="358" r="3.15"/><circle cx="636" cy="340.3" r="3.15"/><circle cx="637.2" cy="358" r="3.15"/><circle cx="637.8" cy="327.6" r="3.15"/><circle cx="638.7" cy="267" r="3.15"/><circle cx="639.9" cy="257.8" r="3.15"/><circle cx="640.7" cy="315.5" r="3.15"/><circle cx="642.7" cy="400.2" r="3.15"/><circle cx="643.3" cy="386.3" r="3.15"/><circle cx="644.8" cy="358.1" r="3.15"/><circle cx="646.4" cy="336.3" r="3.15"/><circle cx="647.4" cy="316" r="3.15"/><circle cx="648.9" cy="305" r="3.15"/><circle cx="649.9" cy="391.5" r="3.15"/><circle cx="650.6" cy="447.2" r="3.15"/><circle cx="651.6" cy="412.1" r="3.15"/><circle cx="653.5" cy="315.1" r="3.15"/><circle cx="654.8" cy="344.7" r="3.15"/><circle cx="655.6" cy="296.7" r="3.15"/><circle cx="656.4" cy="308.4" r="3.15"/><circle cx="657.7" cy="339.7" r="3.15"/><circle cx="658.6" cy="413.4" r="3.15"/><circle cx="659.7" cy="455.3" r="3.15"/><circle cx="660.7" cy="461.2" r="3.15"/><circle cx="661.9" cy="449" r="3.15"/><circle cx="662.5" cy="444" r="3.15"/><circle cx="664.8" cy="307.5" r="3.15"/><circle cx="665.6" cy="393.6" r="3.15"/><circle cx="666.6" cy="415.2" r="3.15"/><circle cx="667.7" cy="436.4" r="3.15"/><circle cx="668.7" cy="455.5" r="3.15"/><circle cx="669.9" cy="489.3" r="3.15"/><circle cx="671.2" cy="473.4" r="3.15"/><circle cx="672.4" cy="453.8" r="3.15"/><circle cx="673.6" cy="470" r="3.15"/><circle cx="674.5" cy="509.3" r="3.15"/><circle cx="675.1" cy="504.3" r="3.15"/><circle cx="676.1" cy="480" r="3.15"/><circle cx="677.4" cy="460" r="3.15"/><circle cx="678.3" cy="477.2" r="3.15"/><circle cx="679.9" cy="506" r="3.15"/><circle cx="680.8" cy="520" r="3.15"/><circle cx="681.6" cy="539.4" r="3.15"/><circle cx="682" cy="529.4" r="3.15"/><circle cx="682.4" cy="544.8" r="3.15"/><circle cx="683.4" cy="530" r="3.15"/><circle cx="684.5" cy="519" r="3.15"/><circle cx="685" cy="496.8" r="3.15"/><circle cx="686.6" cy="462.1" r="3.15"/><circle cx="687.5" cy="471.7" r="3.15"/><circle cx="688.9" cy="490" r="3.15"/><circle cx="689.9" cy="495" r="3.15"/><circle cx="690.8" cy="487.2" r="3.15"/><circle cx="691.2" cy="519" r="3.15"/><circle cx="692.5" cy="536.9" r="3.15"/><circle cx="693.7" cy="544.4" r="3.15"/><circle cx="694.6" cy="465.1" r="3.15"/><circle cx="695.9" cy="485" r="3.15"/><circle cx="697.1" cy="497.6" r="3.15"/><circle cx="698.1" cy="510" r="3.15"/><circle cx="699.2" cy="526" r="3.15"/><circle cx="700.4" cy="505" r="3.15"/><circle cx="702.5" cy="477.2" r="3.15"/><circle cx="703.3" cy="506" r="3.15"/><circle cx="704.4" cy="520" r="3.15"/><circle cx="705.4" cy="539.4" r="3.15"/><circle cx="706.3" cy="544.8" r="3.15"/><circle cx="706.9" cy="529" r="3.15"/><circle cx="708.4" cy="519" r="3.15"/><circle cx="709.6" cy="496.8" r="3.15"/><circle cx="710.4" cy="462.1" r="3.15"/><circle cx="711.3" cy="471.7" r="3.15"/><circle cx="712.4" cy="490" r="3.15"/><circle cx="713.4" cy="500" r="3.15"/><circle cx="714.6" cy="487.2" r="3.15"/><circle cx="715.4" cy="519" r="3.15"/><circle cx="716.4" cy="457.8" r="3.15"/><circle cx="717.3" cy="455.5" r="3.15"/><circle cx="718.2" cy="453.2" r="3.15"/><circle cx="719.4" cy="450" r="3.15"/><circle cx="720.5" cy="439.2" r="3.15"/><circle cx="721.4" cy="424.7" r="3.15"/><circle cx="722.3" cy="416.5" r="3.15"/><circle cx="723.2" cy="409.7" r="3.15"/><circle cx="724.1" cy="398.9" r="3.15"/><circle cx="725" cy="385.3" r="3.15"/><circle cx="725.8" cy="371.1" r="3.15"/><circle cx="726.7" cy="362.5" r="3.15"/><circle cx="727.5" cy="354" r="3.15"/><circle cx="728.5" cy="355.5" r="3.15"/><circle cx="729.5" cy="357" r="3.15"/><circle cx="730.5" cy="356.5" r="3.15"/><circle cx="731.2" cy="361" r="3.15"/><circle cx="731.8" cy="370.5" r="3.15"/><circle cx="733.2" cy="398" r="3.15"/><circle cx="734.1" cy="401" r="3.15"/><circle cx="735" cy="403.4" r="3.15"/><circle cx="735.4" cy="406.1" r="3.15"/><circle cx="736.3" cy="428.3" r="3.15"/><circle cx="737.2" cy="446" r="3.15"/><circle cx="738.4" cy="450" r="3.15"/><circle cx="739.5" cy="451.4" r="3.15"/><circle cx="740.8" cy="456.8" r="3.15"/><circle cx="741.7" cy="457" r="3.15"/><circle cx="742.4" cy="454" r="3.15"/><circle cx="743.5" cy="451.4" r="3.15"/><circle cx="744.5" cy="439.2" r="3.15"/><circle cx="745.4" cy="424.7" r="3.15"/><circle cx="746.3" cy="416.5" r="3.15"/><circle cx="747.2" cy="409.7" r="3.15"/><circle cx="748.2" cy="398.9" r="3.15"/><circle cx="749.2" cy="385.3" r="3.15"/><circle cx="750.2" cy="371.6" r="3.15"/><circle cx="751.2" cy="354.4" r="3.15"/><circle cx="752.1" cy="348" r="3.15"/><circle cx="753" cy="341.6" r="3.15"/><circle cx="753.7" cy="335.1" r="3.15"/><circle cx="754.7" cy="305.1" r="3.15"/><circle cx="755.9" cy="261.3" r="3.15"/><circle cx="757" cy="296" r="3.15"/><circle cx="758.2" cy="319.1" r="3.15"/><circle cx="759.1" cy="340" r="3.15"/><circle cx="759.9" cy="349.4" r="3.15"/><circle cx="761.1" cy="345" r="3.15"/><circle cx="762.2" cy="335" r="3.15"/><circle cx="763.3" cy="327.1" r="3.15"/><circle cx="764.2" cy="341.4" r="3.15"/><circle cx="765.1" cy="345" r="3.15"/><circle cx="766.1" cy="348" r="3.15"/><circle cx="767.1" cy="350" r="3.15"/><circle cx="767.9" cy="351.7" r="3.15"/><circle cx="768.9" cy="360" r="3.15"/><circle cx="769.6" cy="365.4" r="3.15"/><circle cx="770.8" cy="358.6" r="3.15"/><circle cx="772" cy="333.4" r="3.15"/><circle cx="773" cy="305.4" r="3.15"/><circle cx="774.1" cy="280.8" r="3.15"/><circle cx="775" cy="271.7" r="3.15"/><circle cx="776.1" cy="262.2" r="3.15"/><circle cx="777.2" cy="258" r="3.15"/><circle cx="778.3" cy="254.6" r="3.15"/><circle cx="779.2" cy="326.3" r="3.15"/><circle cx="780.2" cy="310" r="3.15"/><circle cx="781.2" cy="300.9" r="3.15"/><circle cx="782.2" cy="312.1" r="3.15"/><circle cx="782.9" cy="333.1" r="3.15"/><circle cx="784.1" cy="355.5" r="3.15"/><circle cx="785.1" cy="361.8" r="3.15"/><circle cx="786.1" cy="340" r="3.15"/><circle cx="787" cy="323.8" r="3.15"/><circle cx="788" cy="333" r="3.15"/><circle cx="789" cy="340" r="3.15"/><circle cx="790" cy="345" r="3.15"/><circle cx="791" cy="348" r="3.15"/><circle cx="791.9" cy="350.1" r="3.15"/><circle cx="792.9" cy="359.7" r="3.15"/><circle cx="793.9" cy="366" r="3.15"/><circle cx="794.8" cy="373.1" r="3.15"/><circle cx="795.8" cy="380" r="3.15"/><circle cx="796.4" cy="388" r="3.15"/><circle cx="797.2" cy="392.6" r="3.15"/><circle cx="798.3" cy="398" r="3.15"/><circle cx="799.4" cy="402" r="3.15"/><circle cx="800.6" cy="406.3" r="3.15"/><circle cx="801.8" cy="398" r="3.15"/><circle cx="802.9" cy="390" r="3.15"/><circle cx="804" cy="382" r="3.15"/><circle cx="805" cy="379" r="3.15"/><circle cx="806.2" cy="384.8" r="3.15"/><circle cx="807.2" cy="405" r="3.15"/><circle cx="808.3" cy="414" r="3.15"/><circle cx="809.4" cy="417" r="3.15"/><circle cx="810.5" cy="412" r="3.15"/><circle cx="811.6" cy="405" r="3.15"/><circle cx="812.6" cy="400" r="3.15"/><circle cx="813.5" cy="398" r="3.15"/><circle cx="814.3" cy="401.4" r="3.15"/><circle cx="815.7" cy="411.2" r="3.15"/><circle cx="817.2" cy="443.3" r="3.15"/><circle cx="818.2" cy="455" r="3.15"/><circle cx="819.1" cy="464.8" r="3.15"/><circle cx="820" cy="473.5" r="3.15"/><circle cx="821" cy="470" r="3.15"/><circle cx="822" cy="465" r="3.15"/><circle cx="823" cy="459.9" r="3.15"/><circle cx="824" cy="422.8" r="3.15"/><circle cx="824.9" cy="396.2" r="3.15"/><circle cx="825.8" cy="356.3" r="3.15"/><circle cx="827.7" cy="306.1" r="3.15"/><circle cx="828.8" cy="331.9" r="3.15"/><circle cx="829.7" cy="339.7" r="3.15"/><circle cx="830.7" cy="359.2" r="3.15"/><circle cx="831.8" cy="455.5" r="3.15"/><circle cx="832.9" cy="382.6" r="3.15"/><circle cx="833.9" cy="442" r="3.15"/><circle cx="834.8" cy="387.5" r="3.15"/><circle cx="835.8" cy="420" r="3.15"/><circle cx="836.8" cy="418.7" r="3.15"/><circle cx="837.8" cy="422.5" r="3.15"/><circle cx="838.5" cy="452.2" r="3.15"/><circle cx="839.3" cy="468.5" r="3.15"/><circle cx="840.1" cy="476.8" r="3.15"/><circle cx="841.2" cy="490.2" r="3.15"/><circle cx="842.3" cy="494" r="3.15"/><circle cx="843.5" cy="495.5" r="3.15"/><circle cx="844.7" cy="497" r="3.15"/><circle cx="845.9" cy="498" r="3.15"/><circle cx="847.1" cy="497.5" r="3.15"/><circle cx="848.2" cy="496.9" r="3.15"/><circle cx="849.1" cy="486.8" r="3.15"/><circle cx="850" cy="471" r="3.15"/><circle cx="850.9" cy="436.3" r="3.15"/><circle cx="851.8" cy="400.1" r="3.15"/><circle cx="852.7" cy="382.1" r="3.15"/><circle cx="853.6" cy="372.8" r="3.15"/><circle cx="854.7" cy="326" r="3.15"/><circle cx="855.7" cy="275.5" r="3.15"/><circle cx="856.9" cy="253.8" r="3.15"/><circle cx="858" cy="259.2" r="3.15"/><circle cx="859" cy="354" r="3.15"/><circle cx="859.9" cy="378.2" r="3.15"/><circle cx="860.8" cy="424.2" r="3.15"/><circle cx="861.7" cy="437.6" r="3.15"/><circle cx="862.8" cy="461.4" r="3.15"/><circle cx="863.8" cy="490.6" r="3.15"/><circle cx="864.8" cy="497" r="3.15"/><circle cx="865.7" cy="500.2" r="3.15"/><circle cx="866.7" cy="503" r="3.15"/><circle cx="867.7" cy="504" r="3.15"/><circle cx="868.7" cy="504.4" r="3.15"/><circle cx="869.7" cy="493" r="3.15"/><circle cx="870.6" cy="500" r="3.15"/><circle cx="871.5" cy="506.9" r="3.15"/><circle cx="872.5" cy="490" r="3.15"/><circle cx="873.4" cy="485.3" r="3.15"/><circle cx="874.3" cy="473.6" r="3.15"/><circle cx="875.1" cy="468.1" r="3.15"/><circle cx="876" cy="441.4" r="3.15"/><circle cx="876.9" cy="433" r="3.15"/><circle cx="878" cy="428" r="3.15"/><circle cx="879" cy="430" r="3.15"/><circle cx="880.2" cy="487" r="3.15"/><circle cx="881.2" cy="470" r="3.15"/><circle cx="882.2" cy="450" r="3.15"/><circle cx="883.3" cy="430" r="3.15"/><circle cx="884.6" cy="415.5" r="3.15"/><circle cx="885.4" cy="462.3" r="3.15"/><circle cx="886.4" cy="480" r="3.15"/><circle cx="887.5" cy="496.2" r="3.15"/><circle cx="888.5" cy="502" r="3.15"/><circle cx="889.5" cy="503" r="3.15"/><circle cx="890.5" cy="505" r="3.15"/><circle cx="891.5" cy="506" r="3.15"/><circle cx="892.5" cy="506" r="3.15"/><circle cx="893.5" cy="505" r="3.15"/><circle cx="894.4" cy="492.8" r="3.15"/><circle cx="895.3" cy="506.2" r="3.15"/><circle cx="896.2" cy="485.7" r="3.15"/><circle cx="897.1" cy="468.1" r="3.15"/><circle cx="898.1" cy="473.6" r="3.15"/><circle cx="899.2" cy="455" r="3.15"/><circle cx="900.2" cy="441.4" r="3.15"/><circle cx="901.1" cy="432.6" r="3.15"/><circle cx="902.2" cy="430" r="3.15"/><circle cx="903.2" cy="428.5" r="3.15"/><circle cx="904.2" cy="429" r="3.15"/><circle cx="905.1" cy="486.5" r="3.15"/><circle cx="906.3" cy="460" r="3.15"/><circle cx="907.4" cy="450.2" r="3.15"/></g>
<g stroke="#000" stroke-width="1.8" fill="none" stroke-linecap="square">
<rect x="124.1" y="764.3" width="816.2" height="573.2"/>
<line x1="115.3" y1="764.3" x2="124.1" y2="764.3"/>
<line x1="115.3" y1="835.95" x2="124.1" y2="835.95"/>
<line x1="115.3" y1="907.6" x2="124.1" y2="907.6"/>
<line x1="115.3" y1="979.25" x2="124.1" y2="979.25"/>
<line x1="115.3" y1="1050.9" x2="124.1" y2="1050.9"/>
<line x1="115.3" y1="1122.55" x2="124.1" y2="1122.55"/>
<line x1="115.3" y1="1194.2" x2="124.1" y2="1194.2"/>
<line x1="115.3" y1="1265.85" x2="124.1" y2="1265.85"/>
<line x1="115.3" y1="1337.5" x2="124.1" y2="1337.5"/>
<line x1="144.5" y1="1337.5" x2="144.5" y2="1346.5"/>
<line x1="168.39" y1="1337.5" x2="168.39" y2="1346.5"/>
<line x1="192.28" y1="1337.5" x2="192.28" y2="1346.5"/>
<line x1="216.17" y1="1337.5" x2="216.17" y2="1346.5"/>
<line x1="240.06" y1="1337.5" x2="240.06" y2="1346.5"/>
<line x1="263.95" y1="1337.5" x2="263.95" y2="1346.5"/>
<line x1="287.84" y1="1337.5" x2="287.84" y2="1346.5"/>
<line x1="311.73" y1="1337.5" x2="311.73" y2="1346.5"/>
<line x1="335.62" y1="1337.5" x2="335.62" y2="1346.5"/>
<line x1="359.51" y1="1337.5" x2="359.51" y2="1346.5"/>
<line x1="383.4" y1="1337.5" x2="383.4" y2="1346.5"/>
<line x1="407.29" y1="1337.5" x2="407.29" y2="1346.5"/>
<line x1="431.18" y1="1337.5" x2="431.18" y2="1346.5"/>
<line x1="455.07" y1="1337.5" x2="455.07" y2="1346.5"/>
<line x1="478.96" y1="1337.5" x2="478.96" y2="1346.5"/>
<line x1="502.85" y1="1337.5" x2="502.85" y2="1346.5"/>
<line x1="526.74" y1="1337.5" x2="526.74" y2="1346.5"/>
<line x1="550.63" y1="1337.5" x2="550.63" y2="1346.5"/>
<line x1="574.52" y1="1337.5" x2="574.52" y2="1346.5"/>
<line x1="598.41" y1="1337.5" x2="598.41" y2="1346.5"/>
<line x1="622.3" y1="1337.5" x2="622.3" y2="1346.5"/>
<line x1="646.19" y1="1337.5" x2="646.19" y2="1346.5"/>
<line x1="670.08" y1="1337.5" x2="670.08" y2="1346.5"/>
<line x1="693.97" y1="1337.5" x2="693.97" y2="1346.5"/>
<line x1="717.86" y1="1337.5" x2="717.86" y2="1346.5"/>
<line x1="741.75" y1="1337.5" x2="741.75" y2="1346.5"/>
<line x1="765.64" y1="1337.5" x2="765.64" y2="1346.5"/>
<line x1="789.53" y1="1337.5" x2="789.53" y2="1346.5"/>
<line x1="813.42" y1="1337.5" x2="813.42" y2="1346.5"/>
<line x1="837.31" y1="1337.5" x2="837.31" y2="1346.5"/>
<line x1="861.2" y1="1337.5" x2="861.2" y2="1346.5"/>
<line x1="885.09" y1="1337.5" x2="885.09" y2="1346.5"/>
<line x1="908.98" y1="1337.5" x2="908.98" y2="1346.5"/>
<line x1="932.87" y1="1337.5" x2="932.87" y2="1346.5"/>
</g>
<path d="M143.9 1303.85 L148.5 1295.85 L155.6 1289.15 L156.1 1304.25 L160.2 1302.55 L163.2 1299.25 L166.9 1304.25 L171.1 1300.05 L174.5 1295.05 L182.8 1286.65 L184.1 1282.05 L187 1278.75 L194.5 1279.15 L199.5 1277.45 L201.2 1270.75 L207.1 1266.65 L208.4 1261.05 L210 1253.55 L210.9 1249.35 L213.4 1256.85 L221.7 1265.25 L230.9 1261.05 L231.4 1257.35 L231.8 1242.65 L233.9 1225.15 L235.5 1232.25 L236.4 1240.55 L236.8 1250.25 L240.1 1249.35 L243.5 1246.05 L248.5 1243.55 L251.8 1237.65 L254.3 1234.35 L258.5 1232.25 L260.2 1235.15 L261.9 1239.35 L266 1240.15 L269.4 1243.55 L271.9 1235.95 L276.9 1238.45 L278.5 1239.35 L281.9 1232.65 L283.9 1223.05 L285.2 1227.65 L288.5 1234.35 L292.7 1231.85 L296.9 1231.05 L301.9 1238.55 L305.3 1235.15 L306.9 1228.45 L309.4 1223.45 L312 1225.55 L313.6 1215.15 L315.3 1220.55 L320.3 1221.85 L321.2 1232.65 L326.2 1238.55 L329.5 1235.15 L331.2 1228.45 L333.7 1222.25 L334.6 1225.15 L335.1 1303.85 L339.7 1295.85 L346.8 1289.15 L347.3 1304.25 L351.4 1302.55 L354.4 1299.25 L358.1 1304.25 L362.3 1300.05 L365.7 1295.05 L374 1286.65 L375.3 1282.05 L378.2 1278.75 L385.7 1279.15 L390.7 1277.45 L392.4 1270.75 L398.3 1266.65 L399.6 1261.05 L401.2 1253.55 L402.1 1249.35 L404.6 1256.85 L412.9 1265.25 L422.1 1261.05 L422.6 1257.35 L423 1242.65 L425.1 1225.15 L426.7 1232.25 L427.6 1240.55 L428 1250.25 L431.3 1249.35 L434.7 1246.05 L439.7 1243.55 L443 1237.65 L445.5 1234.35 L449.7 1232.25 L451.4 1235.15 L453.1 1239.35 L457.2 1240.15 L460.6 1243.55 L463.1 1235.95 L468.1 1238.45 L469.7 1239.35 L473.1 1232.65 L475.1 1223.05 L476.4 1227.65 L479.7 1234.35 L483.9 1231.85 L488.1 1231.05 L493.1 1238.55 L496.5 1235.15 L498.1 1228.45 L500.6 1223.45 L503.2 1225.55 L504.8 1215.15 L506.5 1220.55 L511.5 1221.85 L512.4 1232.65 L517.4 1238.55 L520.7 1235.15 L522.4 1228.45 L524.9 1222.25 L525.8 1225.15 L526.3 1303.85 L530.9 1295.85 L538 1289.15 L538.5 1304.25 L542.6 1302.55 L545.6 1299.25 L549.3 1304.25 L553.5 1300.05 L556.9 1295.05 L565.2 1286.65 L566.5 1282.05 L569.4 1278.75 L576.9 1279.15 L581.9 1277.45 L583.6 1270.75 L589.5 1266.65 L590.8 1261.05 L592.4 1253.55 L593.3 1249.35 L595.8 1256.85 L604.1 1265.25 L613.3 1261.05 L613.8 1257.35 L614.2 1242.65 L616.3 1225.15 L617.9 1232.25 L618.8 1240.55 L619.2 1250.25 L622.5 1249.35 L625.9 1246.05 L630.9 1243.55 L634.2 1237.65 L636.7 1234.35 L640.9 1232.25 L642.6 1235.15 L644.3 1239.35 L648.4 1240.15 L651.8 1243.55 L654.3 1235.95 L659.3 1238.45 L660.9 1239.35 L664.3 1232.65 L666.3 1223.05 L667.6 1227.65 L670.9 1234.35 L675.1 1231.85 L679.3 1231.05 L684.3 1238.55 L687.7 1235.15 L689.3 1228.45 L691.8 1223.45 L694.4 1225.55 L696 1215.15 L697.7 1220.55 L702.7 1221.85 L703.6 1232.65 L708.6 1238.55 L711.9 1235.15 L713.6 1228.45 L716.1 1222.25 L717 1225.15 L717.5 1303.85 L722.1 1295.85 L729.2 1289.15 L729.7 1304.25 L733.8 1302.55 L736.8 1299.25 L740.5 1304.25 L744.7 1300.05 L748.1 1295.05 L756.4 1286.65 L757.7 1282.05 L760.6 1278.75 L768.1 1279.15 L773.1 1277.45 L774.8 1270.75 L780.7 1266.65 L781 1237.45 L781.9 1232.45 L785.2 1233.25 L788.5 1229.95 L792.7 1234.15 L798.6 1236.65 L805.3 1235.85 L811.1 1238.35 L815.3 1242.05 L818.6 1243.35 L821.2 1248.35 L824.1 1251.65 L827.8 1249.15 L831.2 1250.05 L836.2 1245.85 L838.3 1247.55 L839.5 1251.65 L845.4 1255.05 L849.3 1256.75 L853.5 1250.05 L856.9 1255.05 L860.2 1259.25 L865.2 1255.05 L868.6 1258.45 L872.8 1250.85 L876.9 1249.25 L877.8 1243.35 L879 1238.35 L880.3 1232.45 L882.8 1230.85 L886.1 1235.05 L889.9 1237.95 L890.3 1256.75 L892.4 1258.45 L895.3 1254.25 L897.8 1250.05 L901.2 1249.25 L902 1243.35 L902.9 1238.35 L904.5 1233.35 L907.9 1231.65" fill="none" stroke="#767600" stroke-width="1.9"/>
<path d="M143.9 1303.85 L148.5 1295.85 L155.6 1289.15 L156.1 1304.25 L160.2 1302.55 L163.2 1299.25 L166.9 1304.25 L171.1 1300.05 L174.5 1295.05 L182.8 1286.65 L184.1 1282.05 L187 1278.75 L194.5 1279.15 L199.5 1277.45 L201.2 1270.75 L207.1 1266.65 L208.4 1261.05 L210 1253.55 L210.9 1249.35 L213.4 1256.85 L221.7 1265.25 L230.9 1261.05 L231.4 1257.35 L231.8 1242.65 L233.9 1225.15 L235.5 1232.25 L236.4 1240.55 L236.8 1250.25 L240.1 1249.35 L243.5 1246.05 L248.5 1243.55 L251.8 1237.65 L254.3 1234.35 L258.5 1232.25 L260.2 1235.15 L261.9 1239.35 L266 1240.15 L269.4 1243.55 L271.9 1235.95 L276.9 1238.45 L278.5 1239.35 L281.9 1232.65 L283.9 1223.05 L285.2 1227.65 L288.5 1234.35 L292.7 1231.85 L296.9 1231.05 L301.9 1238.55 L305.3 1235.15 L306.9 1228.45 L309.4 1223.45 L312 1225.55 L313.6 1215.15 L315.3 1220.55 L320.3 1221.85 L321.2 1232.65 L326.2 1238.55 L329.5 1235.15 L331.2 1228.45 L333.7 1222.25 L334.6 1225.15" fill="none" stroke="#00009a" stroke-width="1.6"/>
<path d="M872.8 1250.85 L876.9 1249.25 L877.8 1243.35 L879 1238.35 L880.3 1232.45 L882.8 1230.85 L886.1 1235.05 L889.9 1237.95 L890.3 1256.75 L892.4 1258.45 L895.3 1254.25 L897.8 1250.05 L901.2 1249.25 L902 1243.35 L902.9 1238.35 L904.5 1233.35 L907.9 1231.65" fill="none" stroke="#00009a" stroke-width="1.6"/>
<g fill="#8a8a00" stroke="#626200" stroke-width="0.7"><circle cx="143.9" cy="1303.85" r="2.0"/><circle cx="144.82" cy="1302.25" r="2.0"/><circle cx="145.74" cy="1300.65" r="2.0"/><circle cx="146.66" cy="1299.05" r="2.0"/><circle cx="147.58" cy="1297.45" r="2.0"/><circle cx="148.5" cy="1295.85" r="2.0"/><circle cx="149.39" cy="1295.01" r="2.0"/><circle cx="150.28" cy="1294.17" r="2.0"/><circle cx="151.16" cy="1293.34" r="2.0"/><circle cx="152.05" cy="1292.5" r="2.0"/><circle cx="152.94" cy="1291.66" r="2.0"/><circle cx="153.82" cy="1290.83" r="2.0"/><circle cx="154.71" cy="1289.99" r="2.0"/><circle cx="155.6" cy="1289.15" r="2.0"/><circle cx="156.1" cy="1304.25" r="2.0"/><circle cx="156.92" cy="1303.91" r="2.0"/><circle cx="157.74" cy="1303.57" r="2.0"/><circle cx="158.56" cy="1303.23" r="2.0"/><circle cx="159.38" cy="1302.89" r="2.0"/><circle cx="160.2" cy="1302.55" r="2.0"/><circle cx="161.2" cy="1301.45" r="2.0"/><circle cx="162.2" cy="1300.35" r="2.0"/><circle cx="163.2" cy="1299.25" r="2.0"/><circle cx="164.12" cy="1300.5" r="2.0"/><circle cx="165.05" cy="1301.75" r="2.0"/><circle cx="165.97" cy="1303" r="2.0"/><circle cx="166.9" cy="1304.25" r="2.0"/><circle cx="167.74" cy="1303.41" r="2.0"/><circle cx="168.58" cy="1302.57" r="2.0"/><circle cx="169.42" cy="1301.73" r="2.0"/><circle cx="170.26" cy="1300.89" r="2.0"/><circle cx="171.1" cy="1300.05" r="2.0"/><circle cx="171.95" cy="1298.8" r="2.0"/><circle cx="172.8" cy="1297.55" r="2.0"/><circle cx="173.65" cy="1296.3" r="2.0"/><circle cx="174.5" cy="1295.05" r="2.0"/><circle cx="175.42" cy="1294.12" r="2.0"/><circle cx="176.34" cy="1293.18" r="2.0"/><circle cx="177.27" cy="1292.25" r="2.0"/><circle cx="178.19" cy="1291.32" r="2.0"/><circle cx="179.11" cy="1290.38" r="2.0"/><circle cx="180.03" cy="1289.45" r="2.0"/><circle cx="180.96" cy="1288.52" r="2.0"/><circle cx="181.88" cy="1287.58" r="2.0"/><circle cx="182.8" cy="1286.65" r="2.0"/><circle cx="183.45" cy="1284.35" r="2.0"/><circle cx="184.1" cy="1282.05" r="2.0"/><circle cx="185.07" cy="1280.95" r="2.0"/><circle cx="186.03" cy="1279.85" r="2.0"/><circle cx="187" cy="1278.75" r="2.0"/><circle cx="187.94" cy="1278.8" r="2.0"/><circle cx="188.88" cy="1278.85" r="2.0"/><circle cx="189.81" cy="1278.9" r="2.0"/><circle cx="190.75" cy="1278.95" r="2.0"/><circle cx="191.69" cy="1279" r="2.0"/><circle cx="192.62" cy="1279.05" r="2.0"/><circle cx="193.56" cy="1279.1" r="2.0"/><circle cx="194.5" cy="1279.15" r="2.0"/><circle cx="195.5" cy="1278.81" r="2.0"/><circle cx="196.5" cy="1278.47" r="2.0"/><circle cx="197.5" cy="1278.13" r="2.0"/><circle cx="198.5" cy="1277.79" r="2.0"/><circle cx="199.5" cy="1277.45" r="2.0"/><circle cx="200.35" cy="1274.1" r="2.0"/><circle cx="201.2" cy="1270.75" r="2.0"/><circle cx="202.18" cy="1270.07" r="2.0"/><circle cx="203.17" cy="1269.38" r="2.0"/><circle cx="204.15" cy="1268.7" r="2.0"/><circle cx="205.13" cy="1268.02" r="2.0"/><circle cx="206.12" cy="1267.33" r="2.0"/><circle cx="207.1" cy="1266.65" r="2.0"/><circle cx="208.4" cy="1261.05" r="2.0"/><circle cx="210" cy="1253.55" r="2.0"/><circle cx="210.9" cy="1249.35" r="2.0"/><circle cx="211.73" cy="1251.85" r="2.0"/><circle cx="212.57" cy="1254.35" r="2.0"/><circle cx="213.4" cy="1256.85" r="2.0"/><circle cx="214.32" cy="1257.78" r="2.0"/><circle cx="215.24" cy="1258.72" r="2.0"/><circle cx="216.17" cy="1259.65" r="2.0"/><circle cx="217.09" cy="1260.58" r="2.0"/><circle cx="218.01" cy="1261.52" r="2.0"/><circle cx="218.93" cy="1262.45" r="2.0"/><circle cx="219.86" cy="1263.38" r="2.0"/><circle cx="220.78" cy="1264.32" r="2.0"/><circle cx="221.7" cy="1265.25" r="2.0"/><circle cx="222.62" cy="1264.83" r="2.0"/><circle cx="223.54" cy="1264.41" r="2.0"/><circle cx="224.46" cy="1263.99" r="2.0"/><circle cx="225.38" cy="1263.57" r="2.0"/><circle cx="226.3" cy="1263.15" r="2.0"/><circle cx="227.22" cy="1262.73" r="2.0"/><circle cx="228.14" cy="1262.31" r="2.0"/><circle cx="229.06" cy="1261.89" r="2.0"/><circle cx="229.98" cy="1261.47" r="2.0"/><circle cx="230.9" cy="1261.05" r="2.0"/><circle cx="231.4" cy="1257.35" r="2.0"/><circle cx="231.8" cy="1242.65" r="2.0"/><circle cx="233.9" cy="1225.15" r="2.0"/><circle cx="235.5" cy="1232.25" r="2.0"/><circle cx="236.4" cy="1240.55" r="2.0"/><circle cx="236.8" cy="1250.25" r="2.0"/><circle cx="237.62" cy="1250.03" r="2.0"/><circle cx="238.45" cy="1249.8" r="2.0"/><circle cx="239.28" cy="1249.57" r="2.0"/><circle cx="240.1" cy="1249.35" r="2.0"/><circle cx="240.95" cy="1248.52" r="2.0"/><circle cx="241.8" cy="1247.7" r="2.0"/><circle cx="242.65" cy="1246.88" r="2.0"/><circle cx="243.5" cy="1246.05" r="2.0"/><circle cx="244.5" cy="1245.55" r="2.0"/><circle cx="245.5" cy="1245.05" r="2.0"/><circle cx="246.5" cy="1244.55" r="2.0"/><circle cx="247.5" cy="1244.05" r="2.0"/><circle cx="248.5" cy="1243.55" r="2.0"/><circle cx="249.32" cy="1242.08" r="2.0"/><circle cx="250.15" cy="1240.6" r="2.0"/><circle cx="250.98" cy="1239.12" r="2.0"/><circle cx="251.8" cy="1237.65" r="2.0"/><circle cx="252.63" cy="1236.55" r="2.0"/><circle cx="253.47" cy="1235.45" r="2.0"/><circle cx="254.3" cy="1234.35" r="2.0"/><circle cx="255.14" cy="1233.93" r="2.0"/><circle cx="255.98" cy="1233.51" r="2.0"/><circle cx="256.82" cy="1233.09" r="2.0"/><circle cx="257.66" cy="1232.67" r="2.0"/><circle cx="258.5" cy="1232.25" r="2.0"/><circle cx="259.35" cy="1233.7" r="2.0"/><circle cx="260.2" cy="1235.15" r="2.0"/><circle cx="261.05" cy="1237.25" r="2.0"/><circle cx="261.9" cy="1239.35" r="2.0"/><circle cx="262.72" cy="1239.51" r="2.0"/><circle cx="263.54" cy="1239.67" r="2.0"/><circle cx="264.36" cy="1239.83" r="2.0"/><circle cx="265.18" cy="1239.99" r="2.0"/><circle cx="266" cy="1240.15" r="2.0"/><circle cx="266.85" cy="1241" r="2.0"/><circle cx="267.7" cy="1241.85" r="2.0"/><circle cx="268.55" cy="1242.7" r="2.0"/><circle cx="269.4" cy="1243.55" r="2.0"/><circle cx="270.23" cy="1241.02" r="2.0"/><circle cx="271.07" cy="1238.48" r="2.0"/><circle cx="271.9" cy="1235.95" r="2.0"/><circle cx="272.9" cy="1236.45" r="2.0"/><circle cx="273.9" cy="1236.95" r="2.0"/><circle cx="274.9" cy="1237.45" r="2.0"/><circle cx="275.9" cy="1237.95" r="2.0"/><circle cx="276.9" cy="1238.45" r="2.0"/><circle cx="277.7" cy="1238.9" r="2.0"/><circle cx="278.5" cy="1239.35" r="2.0"/><circle cx="279.35" cy="1237.67" r="2.0"/><circle cx="280.2" cy="1236" r="2.0"/><circle cx="281.05" cy="1234.33" r="2.0"/><circle cx="281.9" cy="1232.65" r="2.0"/><circle cx="283.9" cy="1223.05" r="2.0"/><circle cx="284.55" cy="1225.35" r="2.0"/><circle cx="285.2" cy="1227.65" r="2.0"/><circle cx="286.02" cy="1229.33" r="2.0"/><circle cx="286.85" cy="1231" r="2.0"/><circle cx="287.68" cy="1232.67" r="2.0"/><circle cx="288.5" cy="1234.35" r="2.0"/><circle cx="289.34" cy="1233.85" r="2.0"/><circle cx="290.18" cy="1233.35" r="2.0"/><circle cx="291.02" cy="1232.85" r="2.0"/><circle cx="291.86" cy="1232.35" r="2.0"/><circle cx="292.7" cy="1231.85" r="2.0"/><circle cx="293.54" cy="1231.69" r="2.0"/><circle cx="294.38" cy="1231.53" r="2.0"/><circle cx="295.22" cy="1231.37" r="2.0"/><circle cx="296.06" cy="1231.21" r="2.0"/><circle cx="296.9" cy="1231.05" r="2.0"/><circle cx="297.9" cy="1232.55" r="2.0"/><circle cx="298.9" cy="1234.05" r="2.0"/><circle cx="299.9" cy="1235.55" r="2.0"/><circle cx="300.9" cy="1237.05" r="2.0"/><circle cx="301.9" cy="1238.55" r="2.0"/><circle cx="302.75" cy="1237.7" r="2.0"/><circle cx="303.6" cy="1236.85" r="2.0"/><circle cx="304.45" cy="1236" r="2.0"/><circle cx="305.3" cy="1235.15" r="2.0"/><circle cx="306.9" cy="1228.45" r="2.0"/><circle cx="307.73" cy="1226.78" r="2.0"/><circle cx="308.57" cy="1225.12" r="2.0"/><circle cx="309.4" cy="1223.45" r="2.0"/><circle cx="310.27" cy="1224.15" r="2.0"/><circle cx="311.13" cy="1224.85" r="2.0"/><circle cx="312" cy="1225.55" r="2.0"/><circle cx="313.6" cy="1215.15" r="2.0"/><circle cx="314.45" cy="1217.85" r="2.0"/><circle cx="315.3" cy="1220.55" r="2.0"/><circle cx="316.3" cy="1220.81" r="2.0"/><circle cx="317.3" cy="1221.07" r="2.0"/><circle cx="318.3" cy="1221.33" r="2.0"/><circle cx="319.3" cy="1221.59" r="2.0"/><circle cx="320.3" cy="1221.85" r="2.0"/><circle cx="321.2" cy="1232.65" r="2.0"/><circle cx="322.2" cy="1233.83" r="2.0"/><circle cx="323.2" cy="1235.01" r="2.0"/><circle cx="324.2" cy="1236.19" r="2.0"/><circle cx="325.2" cy="1237.37" r="2.0"/><circle cx="326.2" cy="1238.55" r="2.0"/><circle cx="327.02" cy="1237.7" r="2.0"/><circle cx="327.85" cy="1236.85" r="2.0"/><circle cx="328.68" cy="1236" r="2.0"/><circle cx="329.5" cy="1235.15" r="2.0"/><circle cx="330.35" cy="1231.8" r="2.0"/><circle cx="331.2" cy="1228.45" r="2.0"/><circle cx="332.03" cy="1226.38" r="2.0"/><circle cx="332.87" cy="1224.32" r="2.0"/><circle cx="333.7" cy="1222.25" r="2.0"/><circle cx="334.6" cy="1225.15" r="2.0"/><circle cx="335.1" cy="1303.85" r="2.0"/><circle cx="336.02" cy="1302.25" r="2.0"/><circle cx="336.94" cy="1300.65" r="2.0"/><circle cx="337.86" cy="1299.05" r="2.0"/><circle cx="338.78" cy="1297.45" r="2.0"/><circle cx="339.7" cy="1295.85" r="2.0"/><circle cx="340.59" cy="1295.01" r="2.0"/><circle cx="341.47" cy="1294.17" r="2.0"/><circle cx="342.36" cy="1293.34" r="2.0"/><circle cx="343.25" cy="1292.5" r="2.0"/><circle cx="344.14" cy="1291.66" r="2.0"/><circle cx="345.02" cy="1290.83" r="2.0"/><circle cx="345.91" cy="1289.99" r="2.0"/><circle cx="346.8" cy="1289.15" r="2.0"/><circle cx="347.3" cy="1304.25" r="2.0"/><circle cx="348.12" cy="1303.91" r="2.0"/><circle cx="348.94" cy="1303.57" r="2.0"/><circle cx="349.76" cy="1303.23" r="2.0"/><circle cx="350.58" cy="1302.89" r="2.0"/><circle cx="351.4" cy="1302.55" r="2.0"/><circle cx="352.4" cy="1301.45" r="2.0"/><circle cx="353.4" cy="1300.35" r="2.0"/><circle cx="354.4" cy="1299.25" r="2.0"/><circle cx="355.32" cy="1300.5" r="2.0"/><circle cx="356.25" cy="1301.75" r="2.0"/><circle cx="357.18" cy="1303" r="2.0"/><circle cx="358.1" cy="1304.25" r="2.0"/><circle cx="358.94" cy="1303.41" r="2.0"/><circle cx="359.78" cy="1302.57" r="2.0"/><circle cx="360.62" cy="1301.73" r="2.0"/><circle cx="361.46" cy="1300.89" r="2.0"/><circle cx="362.3" cy="1300.05" r="2.0"/><circle cx="363.15" cy="1298.8" r="2.0"/><circle cx="364" cy="1297.55" r="2.0"/><circle cx="364.85" cy="1296.3" r="2.0"/><circle cx="365.7" cy="1295.05" r="2.0"/><circle cx="366.62" cy="1294.12" r="2.0"/><circle cx="367.54" cy="1293.18" r="2.0"/><circle cx="368.47" cy="1292.25" r="2.0"/><circle cx="369.39" cy="1291.32" r="2.0"/><circle cx="370.31" cy="1290.38" r="2.0"/><circle cx="371.23" cy="1289.45" r="2.0"/><circle cx="372.16" cy="1288.52" r="2.0"/><circle cx="373.08" cy="1287.58" r="2.0"/><circle cx="374" cy="1286.65" r="2.0"/><circle cx="374.65" cy="1284.35" r="2.0"/><circle cx="375.3" cy="1282.05" r="2.0"/><circle cx="376.27" cy="1280.95" r="2.0"/><circle cx="377.23" cy="1279.85" r="2.0"/><circle cx="378.2" cy="1278.75" r="2.0"/><circle cx="379.14" cy="1278.8" r="2.0"/><circle cx="380.07" cy="1278.85" r="2.0"/><circle cx="381.01" cy="1278.9" r="2.0"/><circle cx="381.95" cy="1278.95" r="2.0"/><circle cx="382.89" cy="1279" r="2.0"/><circle cx="383.82" cy="1279.05" r="2.0"/><circle cx="384.76" cy="1279.1" r="2.0"/><circle cx="385.7" cy="1279.15" r="2.0"/><circle cx="386.7" cy="1278.81" r="2.0"/><circle cx="387.7" cy="1278.47" r="2.0"/><circle cx="388.7" cy="1278.13" r="2.0"/><circle cx="389.7" cy="1277.79" r="2.0"/><circle cx="390.7" cy="1277.45" r="2.0"/><circle cx="391.55" cy="1274.1" r="2.0"/><circle cx="392.4" cy="1270.75" r="2.0"/><circle cx="393.38" cy="1270.07" r="2.0"/><circle cx="394.37" cy="1269.38" r="2.0"/><circle cx="395.35" cy="1268.7" r="2.0"/><circle cx="396.33" cy="1268.02" r="2.0"/><circle cx="397.32" cy="1267.33" r="2.0"/><circle cx="398.3" cy="1266.65" r="2.0"/><circle cx="399.6" cy="1261.05" r="2.0"/><circle cx="401.2" cy="1253.55" r="2.0"/><circle cx="402.1" cy="1249.35" r="2.0"/><circle cx="402.93" cy="1251.85" r="2.0"/><circle cx="403.77" cy="1254.35" r="2.0"/><circle cx="404.6" cy="1256.85" r="2.0"/><circle cx="405.52" cy="1257.78" r="2.0"/><circle cx="406.44" cy="1258.72" r="2.0"/><circle cx="407.37" cy="1259.65" r="2.0"/><circle cx="408.29" cy="1260.58" r="2.0"/><circle cx="409.21" cy="1261.52" r="2.0"/><circle cx="410.13" cy="1262.45" r="2.0"/><circle cx="411.06" cy="1263.38" r="2.0"/><circle cx="411.98" cy="1264.32" r="2.0"/><circle cx="412.9" cy="1265.25" r="2.0"/><circle cx="413.82" cy="1264.83" r="2.0"/><circle cx="414.74" cy="1264.41" r="2.0"/><circle cx="415.66" cy="1263.99" r="2.0"/><circle cx="416.58" cy="1263.57" r="2.0"/><circle cx="417.5" cy="1263.15" r="2.0"/><circle cx="418.42" cy="1262.73" r="2.0"/><circle cx="419.34" cy="1262.31" r="2.0"/><circle cx="420.26" cy="1261.89" r="2.0"/><circle cx="421.18" cy="1261.47" r="2.0"/><circle cx="422.1" cy="1261.05" r="2.0"/><circle cx="422.6" cy="1257.35" r="2.0"/><circle cx="423" cy="1242.65" r="2.0"/><circle cx="425.1" cy="1225.15" r="2.0"/><circle cx="426.7" cy="1232.25" r="2.0"/><circle cx="427.6" cy="1240.55" r="2.0"/><circle cx="428" cy="1250.25" r="2.0"/><circle cx="428.82" cy="1250.03" r="2.0"/><circle cx="429.65" cy="1249.8" r="2.0"/><circle cx="430.47" cy="1249.57" r="2.0"/><circle cx="431.3" cy="1249.35" r="2.0"/><circle cx="432.15" cy="1248.52" r="2.0"/><circle cx="433" cy="1247.7" r="2.0"/><circle cx="433.85" cy="1246.88" r="2.0"/><circle cx="434.7" cy="1246.05" r="2.0"/><circle cx="435.7" cy="1245.55" r="2.0"/><circle cx="436.7" cy="1245.05" r="2.0"/><circle cx="437.7" cy="1244.55" r="2.0"/><circle cx="438.7" cy="1244.05" r="2.0"/><circle cx="439.7" cy="1243.55" r="2.0"/><circle cx="440.52" cy="1242.08" r="2.0"/><circle cx="441.35" cy="1240.6" r="2.0"/><circle cx="442.18" cy="1239.12" r="2.0"/><circle cx="443" cy="1237.65" r="2.0"/><circle cx="443.83" cy="1236.55" r="2.0"/><circle cx="444.67" cy="1235.45" r="2.0"/><circle cx="445.5" cy="1234.35" r="2.0"/><circle cx="446.34" cy="1233.93" r="2.0"/><circle cx="447.18" cy="1233.51" r="2.0"/><circle cx="448.02" cy="1233.09" r="2.0"/><circle cx="448.86" cy="1232.67" r="2.0"/><circle cx="449.7" cy="1232.25" r="2.0"/><circle cx="450.55" cy="1233.7" r="2.0"/><circle cx="451.4" cy="1235.15" r="2.0"/><circle cx="452.25" cy="1237.25" r="2.0"/><circle cx="453.1" cy="1239.35" r="2.0"/><circle cx="453.92" cy="1239.51" r="2.0"/><circle cx="454.74" cy="1239.67" r="2.0"/><circle cx="455.56" cy="1239.83" r="2.0"/><circle cx="456.38" cy="1239.99" r="2.0"/><circle cx="457.2" cy="1240.15" r="2.0"/><circle cx="458.05" cy="1241" r="2.0"/><circle cx="458.9" cy="1241.85" r="2.0"/><circle cx="459.75" cy="1242.7" r="2.0"/><circle cx="460.6" cy="1243.55" r="2.0"/><circle cx="461.43" cy="1241.02" r="2.0"/><circle cx="462.27" cy="1238.48" r="2.0"/><circle cx="463.1" cy="1235.95" r="2.0"/><circle cx="464.1" cy="1236.45" r="2.0"/><circle cx="465.1" cy="1236.95" r="2.0"/><circle cx="466.1" cy="1237.45" r="2.0"/><circle cx="467.1" cy="1237.95" r="2.0"/><circle cx="468.1" cy="1238.45" r="2.0"/><circle cx="468.9" cy="1238.9" r="2.0"/><circle cx="469.7" cy="1239.35" r="2.0"/><circle cx="470.55" cy="1237.67" r="2.0"/><circle cx="471.4" cy="1236" r="2.0"/><circle cx="472.25" cy="1234.33" r="2.0"/><circle cx="473.1" cy="1232.65" r="2.0"/><circle cx="475.1" cy="1223.05" r="2.0"/><circle cx="475.75" cy="1225.35" r="2.0"/><circle cx="476.4" cy="1227.65" r="2.0"/><circle cx="477.22" cy="1229.33" r="2.0"/><circle cx="478.05" cy="1231" r="2.0"/><circle cx="478.88" cy="1232.67" r="2.0"/><circle cx="479.7" cy="1234.35" r="2.0"/><circle cx="480.54" cy="1233.85" r="2.0"/><circle cx="481.38" cy="1233.35" r="2.0"/><circle cx="482.22" cy="1232.85" r="2.0"/><circle cx="483.06" cy="1232.35" r="2.0"/><circle cx="483.9" cy="1231.85" r="2.0"/><circle cx="484.74" cy="1231.69" r="2.0"/><circle cx="485.58" cy="1231.53" r="2.0"/><circle cx="486.42" cy="1231.37" r="2.0"/><circle cx="487.26" cy="1231.21" r="2.0"/><circle cx="488.1" cy="1231.05" r="2.0"/><circle cx="489.1" cy="1232.55" r="2.0"/><circle cx="490.1" cy="1234.05" r="2.0"/><circle cx="491.1" cy="1235.55" r="2.0"/><circle cx="492.1" cy="1237.05" r="2.0"/><circle cx="493.1" cy="1238.55" r="2.0"/><circle cx="493.95" cy="1237.7" r="2.0"/><circle cx="494.8" cy="1236.85" r="2.0"/><circle cx="495.65" cy="1236" r="2.0"/><circle cx="496.5" cy="1235.15" r="2.0"/><circle cx="498.1" cy="1228.45" r="2.0"/><circle cx="498.93" cy="1226.78" r="2.0"/><circle cx="499.77" cy="1225.12" r="2.0"/><circle cx="500.6" cy="1223.45" r="2.0"/><circle cx="501.47" cy="1224.15" r="2.0"/><circle cx="502.33" cy="1224.85" r="2.0"/><circle cx="503.2" cy="1225.55" r="2.0"/><circle cx="504.8" cy="1215.15" r="2.0"/><circle cx="505.65" cy="1217.85" r="2.0"/><circle cx="506.5" cy="1220.55" r="2.0"/><circle cx="507.5" cy="1220.81" r="2.0"/><circle cx="508.5" cy="1221.07" r="2.0"/><circle cx="509.5" cy="1221.33" r="2.0"/><circle cx="510.5" cy="1221.59" r="2.0"/><circle cx="511.5" cy="1221.85" r="2.0"/><circle cx="512.4" cy="1232.65" r="2.0"/><circle cx="513.4" cy="1233.83" r="2.0"/><circle cx="514.4" cy="1235.01" r="2.0"/><circle cx="515.4" cy="1236.19" r="2.0"/><circle cx="516.4" cy="1237.37" r="2.0"/><circle cx="517.4" cy="1238.55" r="2.0"/><circle cx="518.23" cy="1237.7" r="2.0"/><circle cx="519.05" cy="1236.85" r="2.0"/><circle cx="519.88" cy="1236" r="2.0"/><circle cx="520.7" cy="1235.15" r="2.0"/><circle cx="521.55" cy="1231.8" r="2.0"/><circle cx="522.4" cy="1228.45" r="2.0"/><circle cx="523.23" cy="1226.38" r="2.0"/><circle cx="524.07" cy="1224.32" r="2.0"/><circle cx="524.9" cy="1222.25" r="2.0"/><circle cx="525.8" cy="1225.15" r="2.0"/><circle cx="526.3" cy="1303.85" r="2.0"/><circle cx="527.22" cy="1302.25" r="2.0"/><circle cx="528.14" cy="1300.65" r="2.0"/><circle cx="529.06" cy="1299.05" r="2.0"/><circle cx="529.98" cy="1297.45" r="2.0"/><circle cx="530.9" cy="1295.85" r="2.0"/><circle cx="531.79" cy="1295.01" r="2.0"/><circle cx="532.67" cy="1294.17" r="2.0"/><circle cx="533.56" cy="1293.34" r="2.0"/><circle cx="534.45" cy="1292.5" r="2.0"/><circle cx="535.34" cy="1291.66" r="2.0"/><circle cx="536.23" cy="1290.83" r="2.0"/><circle cx="537.11" cy="1289.99" r="2.0"/><circle cx="538" cy="1289.15" r="2.0"/><circle cx="538.5" cy="1304.25" r="2.0"/><circle cx="539.32" cy="1303.91" r="2.0"/><circle cx="540.14" cy="1303.57" r="2.0"/><circle cx="540.96" cy="1303.23" r="2.0"/><circle cx="541.78" cy="1302.89" r="2.0"/><circle cx="542.6" cy="1302.55" r="2.0"/><circle cx="543.6" cy="1301.45" r="2.0"/><circle cx="544.6" cy="1300.35" r="2.0"/><circle cx="545.6" cy="1299.25" r="2.0"/><circle cx="546.52" cy="1300.5" r="2.0"/><circle cx="547.45" cy="1301.75" r="2.0"/><circle cx="548.38" cy="1303" r="2.0"/><circle cx="549.3" cy="1304.25" r="2.0"/><circle cx="550.14" cy="1303.41" r="2.0"/><circle cx="550.98" cy="1302.57" r="2.0"/><circle cx="551.82" cy="1301.73" r="2.0"/><circle cx="552.66" cy="1300.89" r="2.0"/><circle cx="553.5" cy="1300.05" r="2.0"/><circle cx="554.35" cy="1298.8" r="2.0"/><circle cx="555.2" cy="1297.55" r="2.0"/><circle cx="556.05" cy="1296.3" r="2.0"/><circle cx="556.9" cy="1295.05" r="2.0"/><circle cx="557.82" cy="1294.12" r="2.0"/><circle cx="558.74" cy="1293.18" r="2.0"/><circle cx="559.67" cy="1292.25" r="2.0"/><circle cx="560.59" cy="1291.32" r="2.0"/><circle cx="561.51" cy="1290.38" r="2.0"/><circle cx="562.43" cy="1289.45" r="2.0"/><circle cx="563.36" cy="1288.52" r="2.0"/><circle cx="564.28" cy="1287.58" r="2.0"/><circle cx="565.2" cy="1286.65" r="2.0"/><circle cx="565.85" cy="1284.35" r="2.0"/><circle cx="566.5" cy="1282.05" r="2.0"/><circle cx="567.47" cy="1280.95" r="2.0"/><circle cx="568.43" cy="1279.85" r="2.0"/><circle cx="569.4" cy="1278.75" r="2.0"/><circle cx="570.34" cy="1278.8" r="2.0"/><circle cx="571.27" cy="1278.85" r="2.0"/><circle cx="572.21" cy="1278.9" r="2.0"/><circle cx="573.15" cy="1278.95" r="2.0"/><circle cx="574.09" cy="1279" r="2.0"/><circle cx="575.02" cy="1279.05" r="2.0"/><circle cx="575.96" cy="1279.1" r="2.0"/><circle cx="576.9" cy="1279.15" r="2.0"/><circle cx="577.9" cy="1278.81" r="2.0"/><circle cx="578.9" cy="1278.47" r="2.0"/><circle cx="579.9" cy="1278.13" r="2.0"/><circle cx="580.9" cy="1277.79" r="2.0"/><circle cx="581.9" cy="1277.45" r="2.0"/><circle cx="582.75" cy="1274.1" r="2.0"/><circle cx="583.6" cy="1270.75" r="2.0"/><circle cx="584.58" cy="1270.07" r="2.0"/><circle cx="585.57" cy="1269.38" r="2.0"/><circle cx="586.55" cy="1268.7" r="2.0"/><circle cx="587.53" cy="1268.02" r="2.0"/><circle cx="588.52" cy="1267.33" r="2.0"/><circle cx="589.5" cy="1266.65" r="2.0"/><circle cx="590.8" cy="1261.05" r="2.0"/><circle cx="592.4" cy="1253.55" r="2.0"/><circle cx="593.3" cy="1249.35" r="2.0"/><circle cx="594.13" cy="1251.85" r="2.0"/><circle cx="594.97" cy="1254.35" r="2.0"/><circle cx="595.8" cy="1256.85" r="2.0"/><circle cx="596.72" cy="1257.78" r="2.0"/><circle cx="597.64" cy="1258.72" r="2.0"/><circle cx="598.57" cy="1259.65" r="2.0"/><circle cx="599.49" cy="1260.58" r="2.0"/><circle cx="600.41" cy="1261.52" r="2.0"/><circle cx="601.33" cy="1262.45" r="2.0"/><circle cx="602.26" cy="1263.38" r="2.0"/><circle cx="603.18" cy="1264.32" r="2.0"/><circle cx="604.1" cy="1265.25" r="2.0"/><circle cx="605.02" cy="1264.83" r="2.0"/><circle cx="605.94" cy="1264.41" r="2.0"/><circle cx="606.86" cy="1263.99" r="2.0"/><circle cx="607.78" cy="1263.57" r="2.0"/><circle cx="608.7" cy="1263.15" r="2.0"/><circle cx="609.62" cy="1262.73" r="2.0"/><circle cx="610.54" cy="1262.31" r="2.0"/><circle cx="611.46" cy="1261.89" r="2.0"/><circle cx="612.38" cy="1261.47" r="2.0"/><circle cx="613.3" cy="1261.05" r="2.0"/><circle cx="613.8" cy="1257.35" r="2.0"/><circle cx="614.2" cy="1242.65" r="2.0"/><circle cx="616.3" cy="1225.15" r="2.0"/><circle cx="617.9" cy="1232.25" r="2.0"/><circle cx="618.8" cy="1240.55" r="2.0"/><circle cx="619.2" cy="1250.25" r="2.0"/><circle cx="620.03" cy="1250.03" r="2.0"/><circle cx="620.85" cy="1249.8" r="2.0"/><circle cx="621.67" cy="1249.57" r="2.0"/><circle cx="622.5" cy="1249.35" r="2.0"/><circle cx="623.35" cy="1248.52" r="2.0"/><circle cx="624.2" cy="1247.7" r="2.0"/><circle cx="625.05" cy="1246.88" r="2.0"/><circle cx="625.9" cy="1246.05" r="2.0"/><circle cx="626.9" cy="1245.55" r="2.0"/><circle cx="627.9" cy="1245.05" r="2.0"/><circle cx="628.9" cy="1244.55" r="2.0"/><circle cx="629.9" cy="1244.05" r="2.0"/><circle cx="630.9" cy="1243.55" r="2.0"/><circle cx="631.73" cy="1242.08" r="2.0"/><circle cx="632.55" cy="1240.6" r="2.0"/><circle cx="633.38" cy="1239.12" r="2.0"/><circle cx="634.2" cy="1237.65" r="2.0"/><circle cx="635.03" cy="1236.55" r="2.0"/><circle cx="635.87" cy="1235.45" r="2.0"/><circle cx="636.7" cy="1234.35" r="2.0"/><circle cx="637.54" cy="1233.93" r="2.0"/><circle cx="638.38" cy="1233.51" r="2.0"/><circle cx="639.22" cy="1233.09" r="2.0"/><circle cx="640.06" cy="1232.67" r="2.0"/><circle cx="640.9" cy="1232.25" r="2.0"/><circle cx="641.75" cy="1233.7" r="2.0"/><circle cx="642.6" cy="1235.15" r="2.0"/><circle cx="643.45" cy="1237.25" r="2.0"/><circle cx="644.3" cy="1239.35" r="2.0"/><circle cx="645.12" cy="1239.51" r="2.0"/><circle cx="645.94" cy="1239.67" r="2.0"/><circle cx="646.76" cy="1239.83" r="2.0"/><circle cx="647.58" cy="1239.99" r="2.0"/><circle cx="648.4" cy="1240.15" r="2.0"/><circle cx="649.25" cy="1241" r="2.0"/><circle cx="650.1" cy="1241.85" r="2.0"/><circle cx="650.95" cy="1242.7" r="2.0"/><circle cx="651.8" cy="1243.55" r="2.0"/><circle cx="652.63" cy="1241.02" r="2.0"/><circle cx="653.47" cy="1238.48" r="2.0"/><circle cx="654.3" cy="1235.95" r="2.0"/><circle cx="655.3" cy="1236.45" r="2.0"/><circle cx="656.3" cy="1236.95" r="2.0"/><circle cx="657.3" cy="1237.45" r="2.0"/><circle cx="658.3" cy="1237.95" r="2.0"/><circle cx="659.3" cy="1238.45" r="2.0"/><circle cx="660.1" cy="1238.9" r="2.0"/><circle cx="660.9" cy="1239.35" r="2.0"/><circle cx="661.75" cy="1237.67" r="2.0"/><circle cx="662.6" cy="1236" r="2.0"/><circle cx="663.45" cy="1234.33" r="2.0"/><circle cx="664.3" cy="1232.65" r="2.0"/><circle cx="666.3" cy="1223.05" r="2.0"/><circle cx="666.95" cy="1225.35" r="2.0"/><circle cx="667.6" cy="1227.65" r="2.0"/><circle cx="668.42" cy="1229.33" r="2.0"/><circle cx="669.25" cy="1231" r="2.0"/><circle cx="670.07" cy="1232.67" r="2.0"/><circle cx="670.9" cy="1234.35" r="2.0"/><circle cx="671.74" cy="1233.85" r="2.0"/><circle cx="672.58" cy="1233.35" r="2.0"/><circle cx="673.42" cy="1232.85" r="2.0"/><circle cx="674.26" cy="1232.35" r="2.0"/><circle cx="675.1" cy="1231.85" r="2.0"/><circle cx="675.94" cy="1231.69" r="2.0"/><circle cx="676.78" cy="1231.53" r="2.0"/><circle cx="677.62" cy="1231.37" r="2.0"/><circle cx="678.46" cy="1231.21" r="2.0"/><circle cx="679.3" cy="1231.05" r="2.0"/><circle cx="680.3" cy="1232.55" r="2.0"/><circle cx="681.3" cy="1234.05" r="2.0"/><circle cx="682.3" cy="1235.55" r="2.0"/><circle cx="683.3" cy="1237.05" r="2.0"/><circle cx="684.3" cy="1238.55" r="2.0"/><circle cx="685.15" cy="1237.7" r="2.0"/><circle cx="686" cy="1236.85" r="2.0"/><circle cx="686.85" cy="1236" r="2.0"/><circle cx="687.7" cy="1235.15" r="2.0"/><circle cx="689.3" cy="1228.45" r="2.0"/><circle cx="690.13" cy="1226.78" r="2.0"/><circle cx="690.97" cy="1225.12" r="2.0"/><circle cx="691.8" cy="1223.45" r="2.0"/><circle cx="692.67" cy="1224.15" r="2.0"/><circle cx="693.53" cy="1224.85" r="2.0"/><circle cx="694.4" cy="1225.55" r="2.0"/><circle cx="696" cy="1215.15" r="2.0"/><circle cx="696.85" cy="1217.85" r="2.0"/><circle cx="697.7" cy="1220.55" r="2.0"/><circle cx="698.7" cy="1220.81" r="2.0"/><circle cx="699.7" cy="1221.07" r="2.0"/><circle cx="700.7" cy="1221.33" r="2.0"/><circle cx="701.7" cy="1221.59" r="2.0"/><circle cx="702.7" cy="1221.85" r="2.0"/><circle cx="703.6" cy="1232.65" r="2.0"/><circle cx="704.6" cy="1233.83" r="2.0"/><circle cx="705.6" cy="1235.01" r="2.0"/><circle cx="706.6" cy="1236.19" r="2.0"/><circle cx="707.6" cy="1237.37" r="2.0"/><circle cx="708.6" cy="1238.55" r="2.0"/><circle cx="709.42" cy="1237.7" r="2.0"/><circle cx="710.25" cy="1236.85" r="2.0"/><circle cx="711.07" cy="1236" r="2.0"/><circle cx="711.9" cy="1235.15" r="2.0"/><circle cx="712.75" cy="1231.8" r="2.0"/><circle cx="713.6" cy="1228.45" r="2.0"/><circle cx="714.43" cy="1226.38" r="2.0"/><circle cx="715.27" cy="1224.32" r="2.0"/><circle cx="716.1" cy="1222.25" r="2.0"/><circle cx="717" cy="1225.15" r="2.0"/><circle cx="717.5" cy="1303.85" r="2.0"/><circle cx="718.42" cy="1302.25" r="2.0"/><circle cx="719.34" cy="1300.65" r="2.0"/><circle cx="720.26" cy="1299.05" r="2.0"/><circle cx="721.18" cy="1297.45" r="2.0"/><circle cx="722.1" cy="1295.85" r="2.0"/><circle cx="722.99" cy="1295.01" r="2.0"/><circle cx="723.87" cy="1294.17" r="2.0"/><circle cx="724.76" cy="1293.34" r="2.0"/><circle cx="725.65" cy="1292.5" r="2.0"/><circle cx="726.54" cy="1291.66" r="2.0"/><circle cx="727.42" cy="1290.83" r="2.0"/><circle cx="728.31" cy="1289.99" r="2.0"/><circle cx="729.2" cy="1289.15" r="2.0"/><circle cx="729.7" cy="1304.25" r="2.0"/><circle cx="730.52" cy="1303.91" r="2.0"/><circle cx="731.34" cy="1303.57" r="2.0"/><circle cx="732.16" cy="1303.23" r="2.0"/><circle cx="732.98" cy="1302.89" r="2.0"/><circle cx="733.8" cy="1302.55" r="2.0"/><circle cx="734.8" cy="1301.45" r="2.0"/><circle cx="735.8" cy="1300.35" r="2.0"/><circle cx="736.8" cy="1299.25" r="2.0"/><circle cx="737.72" cy="1300.5" r="2.0"/><circle cx="738.65" cy="1301.75" r="2.0"/><circle cx="739.57" cy="1303" r="2.0"/><circle cx="740.5" cy="1304.25" r="2.0"/><circle cx="741.34" cy="1303.41" r="2.0"/><circle cx="742.18" cy="1302.57" r="2.0"/><circle cx="743.02" cy="1301.73" r="2.0"/><circle cx="743.86" cy="1300.89" r="2.0"/><circle cx="744.7" cy="1300.05" r="2.0"/><circle cx="745.55" cy="1298.8" r="2.0"/><circle cx="746.4" cy="1297.55" r="2.0"/><circle cx="747.25" cy="1296.3" r="2.0"/><circle cx="748.1" cy="1295.05" r="2.0"/><circle cx="749.02" cy="1294.12" r="2.0"/><circle cx="749.94" cy="1293.18" r="2.0"/><circle cx="750.87" cy="1292.25" r="2.0"/><circle cx="751.79" cy="1291.32" r="2.0"/><circle cx="752.71" cy="1290.38" r="2.0"/><circle cx="753.63" cy="1289.45" r="2.0"/><circle cx="754.56" cy="1288.52" r="2.0"/><circle cx="755.48" cy="1287.58" r="2.0"/><circle cx="756.4" cy="1286.65" r="2.0"/><circle cx="757.05" cy="1284.35" r="2.0"/><circle cx="757.7" cy="1282.05" r="2.0"/><circle cx="758.67" cy="1280.95" r="2.0"/><circle cx="759.63" cy="1279.85" r="2.0"/><circle cx="760.6" cy="1278.75" r="2.0"/><circle cx="761.54" cy="1278.8" r="2.0"/><circle cx="762.47" cy="1278.85" r="2.0"/><circle cx="763.41" cy="1278.9" r="2.0"/><circle cx="764.35" cy="1278.95" r="2.0"/><circle cx="765.29" cy="1279" r="2.0"/><circle cx="766.22" cy="1279.05" r="2.0"/><circle cx="767.16" cy="1279.1" r="2.0"/><circle cx="768.1" cy="1279.15" r="2.0"/><circle cx="769.1" cy="1278.81" r="2.0"/><circle cx="770.1" cy="1278.47" r="2.0"/><circle cx="771.1" cy="1278.13" r="2.0"/><circle cx="772.1" cy="1277.79" r="2.0"/><circle cx="773.1" cy="1277.45" r="2.0"/><circle cx="773.95" cy="1274.1" r="2.0"/><circle cx="774.8" cy="1270.75" r="2.0"/><circle cx="775.78" cy="1270.07" r="2.0"/><circle cx="776.77" cy="1269.38" r="2.0"/><circle cx="777.75" cy="1268.7" r="2.0"/><circle cx="778.73" cy="1268.02" r="2.0"/><circle cx="779.72" cy="1267.33" r="2.0"/><circle cx="780.7" cy="1266.65" r="2.0"/><circle cx="781" cy="1237.45" r="2.0"/><circle cx="781.9" cy="1232.45" r="2.0"/><circle cx="782.73" cy="1232.65" r="2.0"/><circle cx="783.55" cy="1232.85" r="2.0"/><circle cx="784.38" cy="1233.05" r="2.0"/><circle cx="785.2" cy="1233.25" r="2.0"/><circle cx="786.03" cy="1232.42" r="2.0"/><circle cx="786.85" cy="1231.6" r="2.0"/><circle cx="787.67" cy="1230.78" r="2.0"/><circle cx="788.5" cy="1229.95" r="2.0"/><circle cx="789.34" cy="1230.79" r="2.0"/><circle cx="790.18" cy="1231.63" r="2.0"/><circle cx="791.02" cy="1232.47" r="2.0"/><circle cx="791.86" cy="1233.31" r="2.0"/><circle cx="792.7" cy="1234.15" r="2.0"/><circle cx="793.68" cy="1234.57" r="2.0"/><circle cx="794.67" cy="1234.98" r="2.0"/><circle cx="795.65" cy="1235.4" r="2.0"/><circle cx="796.63" cy="1235.82" r="2.0"/><circle cx="797.62" cy="1236.23" r="2.0"/><circle cx="798.6" cy="1236.65" r="2.0"/><circle cx="799.56" cy="1236.54" r="2.0"/><circle cx="800.51" cy="1236.42" r="2.0"/><circle cx="801.47" cy="1236.31" r="2.0"/><circle cx="802.43" cy="1236.19" r="2.0"/><circle cx="803.39" cy="1236.08" r="2.0"/><circle cx="804.34" cy="1235.96" r="2.0"/><circle cx="805.3" cy="1235.85" r="2.0"/><circle cx="806.27" cy="1236.27" r="2.0"/><circle cx="807.23" cy="1236.68" r="2.0"/><circle cx="808.2" cy="1237.1" r="2.0"/><circle cx="809.17" cy="1237.52" r="2.0"/><circle cx="810.13" cy="1237.93" r="2.0"/><circle cx="811.1" cy="1238.35" r="2.0"/><circle cx="811.94" cy="1239.09" r="2.0"/><circle cx="812.78" cy="1239.83" r="2.0"/><circle cx="813.62" cy="1240.57" r="2.0"/><circle cx="814.46" cy="1241.31" r="2.0"/><circle cx="815.3" cy="1242.05" r="2.0"/><circle cx="816.12" cy="1242.38" r="2.0"/><circle cx="816.95" cy="1242.7" r="2.0"/><circle cx="817.77" cy="1243.02" r="2.0"/><circle cx="818.6" cy="1243.35" r="2.0"/><circle cx="819.47" cy="1245.02" r="2.0"/><circle cx="820.33" cy="1246.68" r="2.0"/><circle cx="821.2" cy="1248.35" r="2.0"/><circle cx="822.17" cy="1249.45" r="2.0"/><circle cx="823.13" cy="1250.55" r="2.0"/><circle cx="824.1" cy="1251.65" r="2.0"/><circle cx="825.02" cy="1251.03" r="2.0"/><circle cx="825.95" cy="1250.4" r="2.0"/><circle cx="826.88" cy="1249.78" r="2.0"/><circle cx="827.8" cy="1249.15" r="2.0"/><circle cx="828.65" cy="1249.38" r="2.0"/><circle cx="829.5" cy="1249.6" r="2.0"/><circle cx="830.35" cy="1249.83" r="2.0"/><circle cx="831.2" cy="1250.05" r="2.0"/><circle cx="832.2" cy="1249.21" r="2.0"/><circle cx="833.2" cy="1248.37" r="2.0"/><circle cx="834.2" cy="1247.53" r="2.0"/><circle cx="835.2" cy="1246.69" r="2.0"/><circle cx="836.2" cy="1245.85" r="2.0"/><circle cx="836.9" cy="1246.42" r="2.0"/><circle cx="837.6" cy="1246.98" r="2.0"/><circle cx="838.3" cy="1247.55" r="2.0"/><circle cx="838.9" cy="1249.6" r="2.0"/><circle cx="839.5" cy="1251.65" r="2.0"/><circle cx="840.48" cy="1252.22" r="2.0"/><circle cx="841.47" cy="1252.78" r="2.0"/><circle cx="842.45" cy="1253.35" r="2.0"/><circle cx="843.43" cy="1253.92" r="2.0"/><circle cx="844.42" cy="1254.48" r="2.0"/><circle cx="845.4" cy="1255.05" r="2.0"/><circle cx="846.38" cy="1255.47" r="2.0"/><circle cx="847.35" cy="1255.9" r="2.0"/><circle cx="848.32" cy="1256.33" r="2.0"/><circle cx="849.3" cy="1256.75" r="2.0"/><circle cx="850.14" cy="1255.41" r="2.0"/><circle cx="850.98" cy="1254.07" r="2.0"/><circle cx="851.82" cy="1252.73" r="2.0"/><circle cx="852.66" cy="1251.39" r="2.0"/><circle cx="853.5" cy="1250.05" r="2.0"/><circle cx="854.35" cy="1251.3" r="2.0"/><circle cx="855.2" cy="1252.55" r="2.0"/><circle cx="856.05" cy="1253.8" r="2.0"/><circle cx="856.9" cy="1255.05" r="2.0"/><circle cx="857.73" cy="1256.1" r="2.0"/><circle cx="858.55" cy="1257.15" r="2.0"/><circle cx="859.38" cy="1258.2" r="2.0"/><circle cx="860.2" cy="1259.25" r="2.0"/><circle cx="861.2" cy="1258.41" r="2.0"/><circle cx="862.2" cy="1257.57" r="2.0"/><circle cx="863.2" cy="1256.73" r="2.0"/><circle cx="864.2" cy="1255.89" r="2.0"/><circle cx="865.2" cy="1255.05" r="2.0"/><circle cx="866.05" cy="1255.9" r="2.0"/><circle cx="866.9" cy="1256.75" r="2.0"/><circle cx="867.75" cy="1257.6" r="2.0"/><circle cx="868.6" cy="1258.45" r="2.0"/><circle cx="869.44" cy="1256.93" r="2.0"/><circle cx="870.28" cy="1255.41" r="2.0"/><circle cx="871.12" cy="1253.89" r="2.0"/><circle cx="871.96" cy="1252.37" r="2.0"/><circle cx="872.8" cy="1250.85" r="2.0"/><circle cx="873.62" cy="1250.53" r="2.0"/><circle cx="874.44" cy="1250.21" r="2.0"/><circle cx="875.26" cy="1249.89" r="2.0"/><circle cx="876.08" cy="1249.57" r="2.0"/><circle cx="876.9" cy="1249.25" r="2.0"/><circle cx="877.8" cy="1243.35" r="2.0"/><circle cx="879" cy="1238.35" r="2.0"/><circle cx="880.3" cy="1232.45" r="2.0"/><circle cx="881.13" cy="1231.92" r="2.0"/><circle cx="881.97" cy="1231.38" r="2.0"/><circle cx="882.8" cy="1230.85" r="2.0"/><circle cx="883.62" cy="1231.9" r="2.0"/><circle cx="884.45" cy="1232.95" r="2.0"/><circle cx="885.27" cy="1234" r="2.0"/><circle cx="886.1" cy="1235.05" r="2.0"/><circle cx="887.05" cy="1235.78" r="2.0"/><circle cx="888" cy="1236.5" r="2.0"/><circle cx="888.95" cy="1237.22" r="2.0"/><circle cx="889.9" cy="1237.95" r="2.0"/><circle cx="890.3" cy="1256.75" r="2.0"/><circle cx="891" cy="1257.32" r="2.0"/><circle cx="891.7" cy="1257.88" r="2.0"/><circle cx="892.4" cy="1258.45" r="2.0"/><circle cx="893.37" cy="1257.05" r="2.0"/><circle cx="894.33" cy="1255.65" r="2.0"/><circle cx="895.3" cy="1254.25" r="2.0"/><circle cx="896.13" cy="1252.85" r="2.0"/><circle cx="896.97" cy="1251.45" r="2.0"/><circle cx="897.8" cy="1250.05" r="2.0"/><circle cx="898.65" cy="1249.85" r="2.0"/><circle cx="899.5" cy="1249.65" r="2.0"/><circle cx="900.35" cy="1249.45" r="2.0"/><circle cx="901.2" cy="1249.25" r="2.0"/><circle cx="902" cy="1243.35" r="2.0"/><circle cx="902.9" cy="1238.35" r="2.0"/><circle cx="903.7" cy="1235.85" r="2.0"/><circle cx="904.5" cy="1233.35" r="2.0"/><circle cx="905.35" cy="1232.92" r="2.0"/><circle cx="906.2" cy="1232.5" r="2.0"/><circle cx="907.05" cy="1232.08" r="2.0"/><circle cx="907.9" cy="1231.65" r="2.0"/></g>
<path d="M143.9 945.6 L148.5 937.6 L155.6 930.9 L156.1 946 L160.2 944.3 L163.2 941 L166.9 946 L171.1 941.8 L174.5 936.8 L182.8 928.4 L184.1 923.8 L187 920.5 L194.5 920.9 L199.5 919.2 L201.2 912.5 L207.1 908.4 L208.4 902.8 L210 895.3 L210.9 891.1 L213.4 898.6 L221.7 907 L230.9 902.8 L231.4 899.1 L231.8 884.4 L233.9 866.9 L235.5 874 L236.4 882.3 L236.8 892 L240.1 891.1 L243.5 887.8 L248.5 885.3 L251.8 879.4 L254.3 876.1 L258.5 874 L260.2 876.9 L261.9 881.1 L266 881.9 L269.4 885.3 L271.9 877.7 L276.9 880.2 L278.5 881.1 L281.9 874.4 L283.9 864.8 L285.2 869.4 L288.5 876.1 L292.7 873.6 L296.9 872.8 L301.9 880.3 L305.3 876.9 L306.9 870.2 L309.4 865.2 L312 867.3 L313.6 856.9 L315.3 862.3 L320.3 863.6 L321.2 874.4 L326.2 880.3 L329.5 876.9 L331.2 870.2 L333.7 864 L334.6 866.9 L335.1 945.6 L339.7 937.6 L346.8 930.9 L347.3 946 L351.4 944.3 L354.4 941 L358.1 946 L362.3 941.8 L365.7 936.8 L374 928.4 L375.3 923.8 L378.2 920.5 L385.7 920.9 L390.7 919.2 L392.4 912.5 L398.3 908.4 L399.6 902.8 L401.2 895.3 L402.1 891.1 L404.6 898.6 L412.9 907 L422.1 902.8 L422.6 899.1 L423 884.4 L425.1 866.9 L426.7 874 L427.6 882.3 L428 892 L431.3 891.1 L434.7 887.8 L439.7 885.3 L443 879.4 L445.5 876.1 L449.7 874 L451.4 876.9 L453.1 881.1 L457.2 881.9 L460.6 885.3 L463.1 877.7 L468.1 880.2 L469.7 881.1 L473.1 874.4 L475.1 864.8 L476.4 869.4 L479.7 876.1 L483.9 873.6 L488.1 872.8 L493.1 880.3 L496.5 876.9 L498.1 870.2 L500.6 865.2 L503.2 867.3 L504.8 856.9 L506.5 862.3 L511.5 863.6 L512.4 874.4 L517.4 880.3 L520.7 876.9 L522.4 870.2 L524.9 864 L525.8 866.9 L526.3 945.6 L530.9 937.6 L538 930.9 L538.5 946 L542.6 944.3 L545.6 941 L549.3 946 L553.5 941.8 L556.9 936.8 L565.2 928.4 L566.5 923.8 L569.4 920.5 L576.9 920.9 L581.9 919.2 L583.6 912.5 L589.5 908.4 L590.8 902.8 L592.4 895.3 L593.3 891.1 L595.8 898.6 L604.1 907 L613.3 902.8 L613.8 899.1 L614.2 884.4 L616.3 866.9 L617.9 874 L618.8 882.3 L619.2 892 L622.5 891.1 L625.9 887.8 L630.9 885.3 L634.2 879.4 L636.7 876.1 L640.9 874 L642.6 876.9 L644.3 881.1 L648.4 881.9 L651.8 885.3 L654.3 877.7 L659.3 880.2 L660.9 881.1 L664.3 874.4 L666.3 864.8 L667.6 869.4 L670.9 876.1 L675.1 873.6 L679.3 872.8 L684.3 880.3 L687.7 876.9 L689.3 870.2 L691.8 865.2 L694.4 867.3 L696 856.9 L697.7 862.3 L702.7 863.6 L703.6 874.4 L708.6 880.3 L711.9 876.9 L713.6 870.2 L716.1 864 L717 866.9 L717.5 945.6 L722.1 937.6 L729.2 930.9 L729.7 946 L733.8 944.3 L736.8 941 L740.5 946 L744.7 941.8 L748.1 936.8 L756.4 928.4 L757.7 923.8 L760.6 920.5 L768.1 920.9 L773.1 919.2 L774.8 912.5 L780.7 908.4 L781 879.2 L781.9 874.2 L785.2 875 L788.5 871.7 L792.7 875.9 L798.6 878.4 L805.3 877.6 L811.1 880.1 L815.3 883.8 L818.6 885.1 L821.2 890.1 L824.1 893.4 L827.8 890.9 L831.2 891.8 L836.2 887.6 L838.3 889.3 L839.5 893.4 L845.4 896.8 L849.3 898.5 L853.5 891.8 L856.9 896.8 L860.2 901 L865.2 896.8 L868.6 900.2 L872.8 892.6 L876.9 891 L877.8 885.1 L879 880.1 L880.3 874.2 L882.8 872.6 L886.1 876.8 L889.9 879.7 L890.3 898.5 L892.4 900.2 L895.3 896 L897.8 891.8 L901.2 891 L902 885.1 L902.9 880.1 L904.5 875.1 L907.9 873.4" fill="none" stroke="#7a0000" stroke-width="1.9"/>
<g fill="#880000" stroke="#5e0000" stroke-width="0.7"><circle cx="143.9" cy="945.6" r="2.0"/><circle cx="144.82" cy="944" r="2.0"/><circle cx="145.74" cy="942.4" r="2.0"/><circle cx="146.66" cy="940.8" r="2.0"/><circle cx="147.58" cy="939.2" r="2.0"/><circle cx="148.5" cy="937.6" r="2.0"/><circle cx="149.39" cy="936.76" r="2.0"/><circle cx="150.28" cy="935.92" r="2.0"/><circle cx="151.16" cy="935.09" r="2.0"/><circle cx="152.05" cy="934.25" r="2.0"/><circle cx="152.94" cy="933.41" r="2.0"/><circle cx="153.82" cy="932.58" r="2.0"/><circle cx="154.71" cy="931.74" r="2.0"/><circle cx="155.6" cy="930.9" r="2.0"/><circle cx="156.1" cy="946" r="2.0"/><circle cx="156.92" cy="945.66" r="2.0"/><circle cx="157.74" cy="945.32" r="2.0"/><circle cx="158.56" cy="944.98" r="2.0"/><circle cx="159.38" cy="944.64" r="2.0"/><circle cx="160.2" cy="944.3" r="2.0"/><circle cx="161.2" cy="943.2" r="2.0"/><circle cx="162.2" cy="942.1" r="2.0"/><circle cx="163.2" cy="941" r="2.0"/><circle cx="164.12" cy="942.25" r="2.0"/><circle cx="165.05" cy="943.5" r="2.0"/><circle cx="165.97" cy="944.75" r="2.0"/><circle cx="166.9" cy="946" r="2.0"/><circle cx="167.74" cy="945.16" r="2.0"/><circle cx="168.58" cy="944.32" r="2.0"/><circle cx="169.42" cy="943.48" r="2.0"/><circle cx="170.26" cy="942.64" r="2.0"/><circle cx="171.1" cy="941.8" r="2.0"/><circle cx="171.95" cy="940.55" r="2.0"/><circle cx="172.8" cy="939.3" r="2.0"/><circle cx="173.65" cy="938.05" r="2.0"/><circle cx="174.5" cy="936.8" r="2.0"/><circle cx="175.42" cy="935.87" r="2.0"/><circle cx="176.34" cy="934.93" r="2.0"/><circle cx="177.27" cy="934" r="2.0"/><circle cx="178.19" cy="933.07" r="2.0"/><circle cx="179.11" cy="932.13" r="2.0"/><circle cx="180.03" cy="931.2" r="2.0"/><circle cx="180.96" cy="930.27" r="2.0"/><circle cx="181.88" cy="929.33" r="2.0"/><circle cx="182.8" cy="928.4" r="2.0"/><circle cx="183.45" cy="926.1" r="2.0"/><circle cx="184.1" cy="923.8" r="2.0"/><circle cx="185.07" cy="922.7" r="2.0"/><circle cx="186.03" cy="921.6" r="2.0"/><circle cx="187" cy="920.5" r="2.0"/><circle cx="187.94" cy="920.55" r="2.0"/><circle cx="188.88" cy="920.6" r="2.0"/><circle cx="189.81" cy="920.65" r="2.0"/><circle cx="190.75" cy="920.7" r="2.0"/><circle cx="191.69" cy="920.75" r="2.0"/><circle cx="192.62" cy="920.8" r="2.0"/><circle cx="193.56" cy="920.85" r="2.0"/><circle cx="194.5" cy="920.9" r="2.0"/><circle cx="195.5" cy="920.56" r="2.0"/><circle cx="196.5" cy="920.22" r="2.0"/><circle cx="197.5" cy="919.88" r="2.0"/><circle cx="198.5" cy="919.54" r="2.0"/><circle cx="199.5" cy="919.2" r="2.0"/><circle cx="200.35" cy="915.85" r="2.0"/><circle cx="201.2" cy="912.5" r="2.0"/><circle cx="202.18" cy="911.82" r="2.0"/><circle cx="203.17" cy="911.13" r="2.0"/><circle cx="204.15" cy="910.45" r="2.0"/><circle cx="205.13" cy="909.77" r="2.0"/><circle cx="206.12" cy="909.08" r="2.0"/><circle cx="207.1" cy="908.4" r="2.0"/><circle cx="208.4" cy="902.8" r="2.0"/><circle cx="210" cy="895.3" r="2.0"/><circle cx="210.9" cy="891.1" r="2.0"/><circle cx="211.73" cy="893.6" r="2.0"/><circle cx="212.57" cy="896.1" r="2.0"/><circle cx="213.4" cy="898.6" r="2.0"/><circle cx="214.32" cy="899.53" r="2.0"/><circle cx="215.24" cy="900.47" r="2.0"/><circle cx="216.17" cy="901.4" r="2.0"/><circle cx="217.09" cy="902.33" r="2.0"/><circle cx="218.01" cy="903.27" r="2.0"/><circle cx="218.93" cy="904.2" r="2.0"/><circle cx="219.86" cy="905.13" r="2.0"/><circle cx="220.78" cy="906.07" r="2.0"/><circle cx="221.7" cy="907" r="2.0"/><circle cx="222.62" cy="906.58" r="2.0"/><circle cx="223.54" cy="906.16" r="2.0"/><circle cx="224.46" cy="905.74" r="2.0"/><circle cx="225.38" cy="905.32" r="2.0"/><circle cx="226.3" cy="904.9" r="2.0"/><circle cx="227.22" cy="904.48" r="2.0"/><circle cx="228.14" cy="904.06" r="2.0"/><circle cx="229.06" cy="903.64" r="2.0"/><circle cx="229.98" cy="903.22" r="2.0"/><circle cx="230.9" cy="902.8" r="2.0"/><circle cx="231.4" cy="899.1" r="2.0"/><circle cx="231.8" cy="884.4" r="2.0"/><circle cx="233.9" cy="866.9" r="2.0"/><circle cx="235.5" cy="874" r="2.0"/><circle cx="236.4" cy="882.3" r="2.0"/><circle cx="236.8" cy="892" r="2.0"/><circle cx="237.62" cy="891.77" r="2.0"/><circle cx="238.45" cy="891.55" r="2.0"/><circle cx="239.28" cy="891.33" r="2.0"/><circle cx="240.1" cy="891.1" r="2.0"/><circle cx="240.95" cy="890.27" r="2.0"/><circle cx="241.8" cy="889.45" r="2.0"/><circle cx="242.65" cy="888.62" r="2.0"/><circle cx="243.5" cy="887.8" r="2.0"/><circle cx="244.5" cy="887.3" r="2.0"/><circle cx="245.5" cy="886.8" r="2.0"/><circle cx="246.5" cy="886.3" r="2.0"/><circle cx="247.5" cy="885.8" r="2.0"/><circle cx="248.5" cy="885.3" r="2.0"/><circle cx="249.32" cy="883.82" r="2.0"/><circle cx="250.15" cy="882.35" r="2.0"/><circle cx="250.98" cy="880.88" r="2.0"/><circle cx="251.8" cy="879.4" r="2.0"/><circle cx="252.63" cy="878.3" r="2.0"/><circle cx="253.47" cy="877.2" r="2.0"/><circle cx="254.3" cy="876.1" r="2.0"/><circle cx="255.14" cy="875.68" r="2.0"/><circle cx="255.98" cy="875.26" r="2.0"/><circle cx="256.82" cy="874.84" r="2.0"/><circle cx="257.66" cy="874.42" r="2.0"/><circle cx="258.5" cy="874" r="2.0"/><circle cx="259.35" cy="875.45" r="2.0"/><circle cx="260.2" cy="876.9" r="2.0"/><circle cx="261.05" cy="879" r="2.0"/><circle cx="261.9" cy="881.1" r="2.0"/><circle cx="262.72" cy="881.26" r="2.0"/><circle cx="263.54" cy="881.42" r="2.0"/><circle cx="264.36" cy="881.58" r="2.0"/><circle cx="265.18" cy="881.74" r="2.0"/><circle cx="266" cy="881.9" r="2.0"/><circle cx="266.85" cy="882.75" r="2.0"/><circle cx="267.7" cy="883.6" r="2.0"/><circle cx="268.55" cy="884.45" r="2.0"/><circle cx="269.4" cy="885.3" r="2.0"/><circle cx="270.23" cy="882.77" r="2.0"/><circle cx="271.07" cy="880.23" r="2.0"/><circle cx="271.9" cy="877.7" r="2.0"/><circle cx="272.9" cy="878.2" r="2.0"/><circle cx="273.9" cy="878.7" r="2.0"/><circle cx="274.9" cy="879.2" r="2.0"/><circle cx="275.9" cy="879.7" r="2.0"/><circle cx="276.9" cy="880.2" r="2.0"/><circle cx="277.7" cy="880.65" r="2.0"/><circle cx="278.5" cy="881.1" r="2.0"/><circle cx="279.35" cy="879.42" r="2.0"/><circle cx="280.2" cy="877.75" r="2.0"/><circle cx="281.05" cy="876.08" r="2.0"/><circle cx="281.9" cy="874.4" r="2.0"/><circle cx="283.9" cy="864.8" r="2.0"/><circle cx="284.55" cy="867.1" r="2.0"/><circle cx="285.2" cy="869.4" r="2.0"/><circle cx="286.02" cy="871.08" r="2.0"/><circle cx="286.85" cy="872.75" r="2.0"/><circle cx="287.68" cy="874.42" r="2.0"/><circle cx="288.5" cy="876.1" r="2.0"/><circle cx="289.34" cy="875.6" r="2.0"/><circle cx="290.18" cy="875.1" r="2.0"/><circle cx="291.02" cy="874.6" r="2.0"/><circle cx="291.86" cy="874.1" r="2.0"/><circle cx="292.7" cy="873.6" r="2.0"/><circle cx="293.54" cy="873.44" r="2.0"/><circle cx="294.38" cy="873.28" r="2.0"/><circle cx="295.22" cy="873.12" r="2.0"/><circle cx="296.06" cy="872.96" r="2.0"/><circle cx="296.9" cy="872.8" r="2.0"/><circle cx="297.9" cy="874.3" r="2.0"/><circle cx="298.9" cy="875.8" r="2.0"/><circle cx="299.9" cy="877.3" r="2.0"/><circle cx="300.9" cy="878.8" r="2.0"/><circle cx="301.9" cy="880.3" r="2.0"/><circle cx="302.75" cy="879.45" r="2.0"/><circle cx="303.6" cy="878.6" r="2.0"/><circle cx="304.45" cy="877.75" r="2.0"/><circle cx="305.3" cy="876.9" r="2.0"/><circle cx="306.9" cy="870.2" r="2.0"/><circle cx="307.73" cy="868.53" r="2.0"/><circle cx="308.57" cy="866.87" r="2.0"/><circle cx="309.4" cy="865.2" r="2.0"/><circle cx="310.27" cy="865.9" r="2.0"/><circle cx="311.13" cy="866.6" r="2.0"/><circle cx="312" cy="867.3" r="2.0"/><circle cx="313.6" cy="856.9" r="2.0"/><circle cx="314.45" cy="859.6" r="2.0"/><circle cx="315.3" cy="862.3" r="2.0"/><circle cx="316.3" cy="862.56" r="2.0"/><circle cx="317.3" cy="862.82" r="2.0"/><circle cx="318.3" cy="863.08" r="2.0"/><circle cx="319.3" cy="863.34" r="2.0"/><circle cx="320.3" cy="863.6" r="2.0"/><circle cx="321.2" cy="874.4" r="2.0"/><circle cx="322.2" cy="875.58" r="2.0"/><circle cx="323.2" cy="876.76" r="2.0"/><circle cx="324.2" cy="877.94" r="2.0"/><circle cx="325.2" cy="879.12" r="2.0"/><circle cx="326.2" cy="880.3" r="2.0"/><circle cx="327.02" cy="879.45" r="2.0"/><circle cx="327.85" cy="878.6" r="2.0"/><circle cx="328.68" cy="877.75" r="2.0"/><circle cx="329.5" cy="876.9" r="2.0"/><circle cx="330.35" cy="873.55" r="2.0"/><circle cx="331.2" cy="870.2" r="2.0"/><circle cx="332.03" cy="868.13" r="2.0"/><circle cx="332.87" cy="866.07" r="2.0"/><circle cx="333.7" cy="864" r="2.0"/><circle cx="334.6" cy="866.9" r="2.0"/><circle cx="335.1" cy="945.6" r="2.0"/><circle cx="336.02" cy="944" r="2.0"/><circle cx="336.94" cy="942.4" r="2.0"/><circle cx="337.86" cy="940.8" r="2.0"/><circle cx="338.78" cy="939.2" r="2.0"/><circle cx="339.7" cy="937.6" r="2.0"/><circle cx="340.59" cy="936.76" r="2.0"/><circle cx="341.47" cy="935.92" r="2.0"/><circle cx="342.36" cy="935.09" r="2.0"/><circle cx="343.25" cy="934.25" r="2.0"/><circle cx="344.14" cy="933.41" r="2.0"/><circle cx="345.02" cy="932.58" r="2.0"/><circle cx="345.91" cy="931.74" r="2.0"/><circle cx="346.8" cy="930.9" r="2.0"/><circle cx="347.3" cy="946" r="2.0"/><circle cx="348.12" cy="945.66" r="2.0"/><circle cx="348.94" cy="945.32" r="2.0"/><circle cx="349.76" cy="944.98" r="2.0"/><circle cx="350.58" cy="944.64" r="2.0"/><circle cx="351.4" cy="944.3" r="2.0"/><circle cx="352.4" cy="943.2" r="2.0"/><circle cx="353.4" cy="942.1" r="2.0"/><circle cx="354.4" cy="941" r="2.0"/><circle cx="355.32" cy="942.25" r="2.0"/><circle cx="356.25" cy="943.5" r="2.0"/><circle cx="357.18" cy="944.75" r="2.0"/><circle cx="358.1" cy="946" r="2.0"/><circle cx="358.94" cy="945.16" r="2.0"/><circle cx="359.78" cy="944.32" r="2.0"/><circle cx="360.62" cy="943.48" r="2.0"/><circle cx="361.46" cy="942.64" r="2.0"/><circle cx="362.3" cy="941.8" r="2.0"/><circle cx="363.15" cy="940.55" r="2.0"/><circle cx="364" cy="939.3" r="2.0"/><circle cx="364.85" cy="938.05" r="2.0"/><circle cx="365.7" cy="936.8" r="2.0"/><circle cx="366.62" cy="935.87" r="2.0"/><circle cx="367.54" cy="934.93" r="2.0"/><circle cx="368.47" cy="934" r="2.0"/><circle cx="369.39" cy="933.07" r="2.0"/><circle cx="370.31" cy="932.13" r="2.0"/><circle cx="371.23" cy="931.2" r="2.0"/><circle cx="372.16" cy="930.27" r="2.0"/><circle cx="373.08" cy="929.33" r="2.0"/><circle cx="374" cy="928.4" r="2.0"/><circle cx="374.65" cy="926.1" r="2.0"/><circle cx="375.3" cy="923.8" r="2.0"/><circle cx="376.27" cy="922.7" r="2.0"/><circle cx="377.23" cy="921.6" r="2.0"/><circle cx="378.2" cy="920.5" r="2.0"/><circle cx="379.14" cy="920.55" r="2.0"/><circle cx="380.07" cy="920.6" r="2.0"/><circle cx="381.01" cy="920.65" r="2.0"/><circle cx="381.95" cy="920.7" r="2.0"/><circle cx="382.89" cy="920.75" r="2.0"/><circle cx="383.82" cy="920.8" r="2.0"/><circle cx="384.76" cy="920.85" r="2.0"/><circle cx="385.7" cy="920.9" r="2.0"/><circle cx="386.7" cy="920.56" r="2.0"/><circle cx="387.7" cy="920.22" r="2.0"/><circle cx="388.7" cy="919.88" r="2.0"/><circle cx="389.7" cy="919.54" r="2.0"/><circle cx="390.7" cy="919.2" r="2.0"/><circle cx="391.55" cy="915.85" r="2.0"/><circle cx="392.4" cy="912.5" r="2.0"/><circle cx="393.38" cy="911.82" r="2.0"/><circle cx="394.37" cy="911.13" r="2.0"/><circle cx="395.35" cy="910.45" r="2.0"/><circle cx="396.33" cy="909.77" r="2.0"/><circle cx="397.32" cy="909.08" r="2.0"/><circle cx="398.3" cy="908.4" r="2.0"/><circle cx="399.6" cy="902.8" r="2.0"/><circle cx="401.2" cy="895.3" r="2.0"/><circle cx="402.1" cy="891.1" r="2.0"/><circle cx="402.93" cy="893.6" r="2.0"/><circle cx="403.77" cy="896.1" r="2.0"/><circle cx="404.6" cy="898.6" r="2.0"/><circle cx="405.52" cy="899.53" r="2.0"/><circle cx="406.44" cy="900.47" r="2.0"/><circle cx="407.37" cy="901.4" r="2.0"/><circle cx="408.29" cy="902.33" r="2.0"/><circle cx="409.21" cy="903.27" r="2.0"/><circle cx="410.13" cy="904.2" r="2.0"/><circle cx="411.06" cy="905.13" r="2.0"/><circle cx="411.98" cy="906.07" r="2.0"/><circle cx="412.9" cy="907" r="2.0"/><circle cx="413.82" cy="906.58" r="2.0"/><circle cx="414.74" cy="906.16" r="2.0"/><circle cx="415.66" cy="905.74" r="2.0"/><circle cx="416.58" cy="905.32" r="2.0"/><circle cx="417.5" cy="904.9" r="2.0"/><circle cx="418.42" cy="904.48" r="2.0"/><circle cx="419.34" cy="904.06" r="2.0"/><circle cx="420.26" cy="903.64" r="2.0"/><circle cx="421.18" cy="903.22" r="2.0"/><circle cx="422.1" cy="902.8" r="2.0"/><circle cx="422.6" cy="899.1" r="2.0"/><circle cx="423" cy="884.4" r="2.0"/><circle cx="425.1" cy="866.9" r="2.0"/><circle cx="426.7" cy="874" r="2.0"/><circle cx="427.6" cy="882.3" r="2.0"/><circle cx="428" cy="892" r="2.0"/><circle cx="428.82" cy="891.77" r="2.0"/><circle cx="429.65" cy="891.55" r="2.0"/><circle cx="430.47" cy="891.33" r="2.0"/><circle cx="431.3" cy="891.1" r="2.0"/><circle cx="432.15" cy="890.27" r="2.0"/><circle cx="433" cy="889.45" r="2.0"/><circle cx="433.85" cy="888.62" r="2.0"/><circle cx="434.7" cy="887.8" r="2.0"/><circle cx="435.7" cy="887.3" r="2.0"/><circle cx="436.7" cy="886.8" r="2.0"/><circle cx="437.7" cy="886.3" r="2.0"/><circle cx="438.7" cy="885.8" r="2.0"/><circle cx="439.7" cy="885.3" r="2.0"/><circle cx="440.52" cy="883.82" r="2.0"/><circle cx="441.35" cy="882.35" r="2.0"/><circle cx="442.18" cy="880.88" r="2.0"/><circle cx="443" cy="879.4" r="2.0"/><circle cx="443.83" cy="878.3" r="2.0"/><circle cx="444.67" cy="877.2" r="2.0"/><circle cx="445.5" cy="876.1" r="2.0"/><circle cx="446.34" cy="875.68" r="2.0"/><circle cx="447.18" cy="875.26" r="2.0"/><circle cx="448.02" cy="874.84" r="2.0"/><circle cx="448.86" cy="874.42" r="2.0"/><circle cx="449.7" cy="874" r="2.0"/><circle cx="450.55" cy="875.45" r="2.0"/><circle cx="451.4" cy="876.9" r="2.0"/><circle cx="452.25" cy="879" r="2.0"/><circle cx="453.1" cy="881.1" r="2.0"/><circle cx="453.92" cy="881.26" r="2.0"/><circle cx="454.74" cy="881.42" r="2.0"/><circle cx="455.56" cy="881.58" r="2.0"/><circle cx="456.38" cy="881.74" r="2.0"/><circle cx="457.2" cy="881.9" r="2.0"/><circle cx="458.05" cy="882.75" r="2.0"/><circle cx="458.9" cy="883.6" r="2.0"/><circle cx="459.75" cy="884.45" r="2.0"/><circle cx="460.6" cy="885.3" r="2.0"/><circle cx="461.43" cy="882.77" r="2.0"/><circle cx="462.27" cy="880.23" r="2.0"/><circle cx="463.1" cy="877.7" r="2.0"/><circle cx="464.1" cy="878.2" r="2.0"/><circle cx="465.1" cy="878.7" r="2.0"/><circle cx="466.1" cy="879.2" r="2.0"/><circle cx="467.1" cy="879.7" r="2.0"/><circle cx="468.1" cy="880.2" r="2.0"/><circle cx="468.9" cy="880.65" r="2.0"/><circle cx="469.7" cy="881.1" r="2.0"/><circle cx="470.55" cy="879.42" r="2.0"/><circle cx="471.4" cy="877.75" r="2.0"/><circle cx="472.25" cy="876.08" r="2.0"/><circle cx="473.1" cy="874.4" r="2.0"/><circle cx="475.1" cy="864.8" r="2.0"/><circle cx="475.75" cy="867.1" r="2.0"/><circle cx="476.4" cy="869.4" r="2.0"/><circle cx="477.22" cy="871.08" r="2.0"/><circle cx="478.05" cy="872.75" r="2.0"/><circle cx="478.88" cy="874.42" r="2.0"/><circle cx="479.7" cy="876.1" r="2.0"/><circle cx="480.54" cy="875.6" r="2.0"/><circle cx="481.38" cy="875.1" r="2.0"/><circle cx="482.22" cy="874.6" r="2.0"/><circle cx="483.06" cy="874.1" r="2.0"/><circle cx="483.9" cy="873.6" r="2.0"/><circle cx="484.74" cy="873.44" r="2.0"/><circle cx="485.58" cy="873.28" r="2.0"/><circle cx="486.42" cy="873.12" r="2.0"/><circle cx="487.26" cy="872.96" r="2.0"/><circle cx="488.1" cy="872.8" r="2.0"/><circle cx="489.1" cy="874.3" r="2.0"/><circle cx="490.1" cy="875.8" r="2.0"/><circle cx="491.1" cy="877.3" r="2.0"/><circle cx="492.1" cy="878.8" r="2.0"/><circle cx="493.1" cy="880.3" r="2.0"/><circle cx="493.95" cy="879.45" r="2.0"/><circle cx="494.8" cy="878.6" r="2.0"/><circle cx="495.65" cy="877.75" r="2.0"/><circle cx="496.5" cy="876.9" r="2.0"/><circle cx="498.1" cy="870.2" r="2.0"/><circle cx="498.93" cy="868.53" r="2.0"/><circle cx="499.77" cy="866.87" r="2.0"/><circle cx="500.6" cy="865.2" r="2.0"/><circle cx="501.47" cy="865.9" r="2.0"/><circle cx="502.33" cy="866.6" r="2.0"/><circle cx="503.2" cy="867.3" r="2.0"/><circle cx="504.8" cy="856.9" r="2.0"/><circle cx="505.65" cy="859.6" r="2.0"/><circle cx="506.5" cy="862.3" r="2.0"/><circle cx="507.5" cy="862.56" r="2.0"/><circle cx="508.5" cy="862.82" r="2.0"/><circle cx="509.5" cy="863.08" r="2.0"/><circle cx="510.5" cy="863.34" r="2.0"/><circle cx="511.5" cy="863.6" r="2.0"/><circle cx="512.4" cy="874.4" r="2.0"/><circle cx="513.4" cy="875.58" r="2.0"/><circle cx="514.4" cy="876.76" r="2.0"/><circle cx="515.4" cy="877.94" r="2.0"/><circle cx="516.4" cy="879.12" r="2.0"/><circle cx="517.4" cy="880.3" r="2.0"/><circle cx="518.23" cy="879.45" r="2.0"/><circle cx="519.05" cy="878.6" r="2.0"/><circle cx="519.88" cy="877.75" r="2.0"/><circle cx="520.7" cy="876.9" r="2.0"/><circle cx="521.55" cy="873.55" r="2.0"/><circle cx="522.4" cy="870.2" r="2.0"/><circle cx="523.23" cy="868.13" r="2.0"/><circle cx="524.07" cy="866.07" r="2.0"/><circle cx="524.9" cy="864" r="2.0"/><circle cx="525.8" cy="866.9" r="2.0"/><circle cx="526.3" cy="945.6" r="2.0"/><circle cx="527.22" cy="944" r="2.0"/><circle cx="528.14" cy="942.4" r="2.0"/><circle cx="529.06" cy="940.8" r="2.0"/><circle cx="529.98" cy="939.2" r="2.0"/><circle cx="530.9" cy="937.6" r="2.0"/><circle cx="531.79" cy="936.76" r="2.0"/><circle cx="532.67" cy="935.92" r="2.0"/><circle cx="533.56" cy="935.09" r="2.0"/><circle cx="534.45" cy="934.25" r="2.0"/><circle cx="535.34" cy="933.41" r="2.0"/><circle cx="536.23" cy="932.58" r="2.0"/><circle cx="537.11" cy="931.74" r="2.0"/><circle cx="538" cy="930.9" r="2.0"/><circle cx="538.5" cy="946" r="2.0"/><circle cx="539.32" cy="945.66" r="2.0"/><circle cx="540.14" cy="945.32" r="2.0"/><circle cx="540.96" cy="944.98" r="2.0"/><circle cx="541.78" cy="944.64" r="2.0"/><circle cx="542.6" cy="944.3" r="2.0"/><circle cx="543.6" cy="943.2" r="2.0"/><circle cx="544.6" cy="942.1" r="2.0"/><circle cx="545.6" cy="941" r="2.0"/><circle cx="546.52" cy="942.25" r="2.0"/><circle cx="547.45" cy="943.5" r="2.0"/><circle cx="548.38" cy="944.75" r="2.0"/><circle cx="549.3" cy="946" r="2.0"/><circle cx="550.14" cy="945.16" r="2.0"/><circle cx="550.98" cy="944.32" r="2.0"/><circle cx="551.82" cy="943.48" r="2.0"/><circle cx="552.66" cy="942.64" r="2.0"/><circle cx="553.5" cy="941.8" r="2.0"/><circle cx="554.35" cy="940.55" r="2.0"/><circle cx="555.2" cy="939.3" r="2.0"/><circle cx="556.05" cy="938.05" r="2.0"/><circle cx="556.9" cy="936.8" r="2.0"/><circle cx="557.82" cy="935.87" r="2.0"/><circle cx="558.74" cy="934.93" r="2.0"/><circle cx="559.67" cy="934" r="2.0"/><circle cx="560.59" cy="933.07" r="2.0"/><circle cx="561.51" cy="932.13" r="2.0"/><circle cx="562.43" cy="931.2" r="2.0"/><circle cx="563.36" cy="930.27" r="2.0"/><circle cx="564.28" cy="929.33" r="2.0"/><circle cx="565.2" cy="928.4" r="2.0"/><circle cx="565.85" cy="926.1" r="2.0"/><circle cx="566.5" cy="923.8" r="2.0"/><circle cx="567.47" cy="922.7" r="2.0"/><circle cx="568.43" cy="921.6" r="2.0"/><circle cx="569.4" cy="920.5" r="2.0"/><circle cx="570.34" cy="920.55" r="2.0"/><circle cx="571.27" cy="920.6" r="2.0"/><circle cx="572.21" cy="920.65" r="2.0"/><circle cx="573.15" cy="920.7" r="2.0"/><circle cx="574.09" cy="920.75" r="2.0"/><circle cx="575.02" cy="920.8" r="2.0"/><circle cx="575.96" cy="920.85" r="2.0"/><circle cx="576.9" cy="920.9" r="2.0"/><circle cx="577.9" cy="920.56" r="2.0"/><circle cx="578.9" cy="920.22" r="2.0"/><circle cx="579.9" cy="919.88" r="2.0"/><circle cx="580.9" cy="919.54" r="2.0"/><circle cx="581.9" cy="919.2" r="2.0"/><circle cx="582.75" cy="915.85" r="2.0"/><circle cx="583.6" cy="912.5" r="2.0"/><circle cx="584.58" cy="911.82" r="2.0"/><circle cx="585.57" cy="911.13" r="2.0"/><circle cx="586.55" cy="910.45" r="2.0"/><circle cx="587.53" cy="909.77" r="2.0"/><circle cx="588.52" cy="909.08" r="2.0"/><circle cx="589.5" cy="908.4" r="2.0"/><circle cx="590.8" cy="902.8" r="2.0"/><circle cx="592.4" cy="895.3" r="2.0"/><circle cx="593.3" cy="891.1" r="2.0"/><circle cx="594.13" cy="893.6" r="2.0"/><circle cx="594.97" cy="896.1" r="2.0"/><circle cx="595.8" cy="898.6" r="2.0"/><circle cx="596.72" cy="899.53" r="2.0"/><circle cx="597.64" cy="900.47" r="2.0"/><circle cx="598.57" cy="901.4" r="2.0"/><circle cx="599.49" cy="902.33" r="2.0"/><circle cx="600.41" cy="903.27" r="2.0"/><circle cx="601.33" cy="904.2" r="2.0"/><circle cx="602.26" cy="905.13" r="2.0"/><circle cx="603.18" cy="906.07" r="2.0"/><circle cx="604.1" cy="907" r="2.0"/><circle cx="605.02" cy="906.58" r="2.0"/><circle cx="605.94" cy="906.16" r="2.0"/><circle cx="606.86" cy="905.74" r="2.0"/><circle cx="607.78" cy="905.32" r="2.0"/><circle cx="608.7" cy="904.9" r="2.0"/><circle cx="609.62" cy="904.48" r="2.0"/><circle cx="610.54" cy="904.06" r="2.0"/><circle cx="611.46" cy="903.64" r="2.0"/><circle cx="612.38" cy="903.22" r="2.0"/><circle cx="613.3" cy="902.8" r="2.0"/><circle cx="613.8" cy="899.1" r="2.0"/><circle cx="614.2" cy="884.4" r="2.0"/><circle cx="616.3" cy="866.9" r="2.0"/><circle cx="617.9" cy="874" r="2.0"/><circle cx="618.8" cy="882.3" r="2.0"/><circle cx="619.2" cy="892" r="2.0"/><circle cx="620.03" cy="891.77" r="2.0"/><circle cx="620.85" cy="891.55" r="2.0"/><circle cx="621.67" cy="891.33" r="2.0"/><circle cx="622.5" cy="891.1" r="2.0"/><circle cx="623.35" cy="890.27" r="2.0"/><circle cx="624.2" cy="889.45" r="2.0"/><circle cx="625.05" cy="888.62" r="2.0"/><circle cx="625.9" cy="887.8" r="2.0"/><circle cx="626.9" cy="887.3" r="2.0"/><circle cx="627.9" cy="886.8" r="2.0"/><circle cx="628.9" cy="886.3" r="2.0"/><circle cx="629.9" cy="885.8" r="2.0"/><circle cx="630.9" cy="885.3" r="2.0"/><circle cx="631.73" cy="883.82" r="2.0"/><circle cx="632.55" cy="882.35" r="2.0"/><circle cx="633.38" cy="880.88" r="2.0"/><circle cx="634.2" cy="879.4" r="2.0"/><circle cx="635.03" cy="878.3" r="2.0"/><circle cx="635.87" cy="877.2" r="2.0"/><circle cx="636.7" cy="876.1" r="2.0"/><circle cx="637.54" cy="875.68" r="2.0"/><circle cx="638.38" cy="875.26" r="2.0"/><circle cx="639.22" cy="874.84" r="2.0"/><circle cx="640.06" cy="874.42" r="2.0"/><circle cx="640.9" cy="874" r="2.0"/><circle cx="641.75" cy="875.45" r="2.0"/><circle cx="642.6" cy="876.9" r="2.0"/><circle cx="643.45" cy="879" r="2.0"/><circle cx="644.3" cy="881.1" r="2.0"/><circle cx="645.12" cy="881.26" r="2.0"/><circle cx="645.94" cy="881.42" r="2.0"/><circle cx="646.76" cy="881.58" r="2.0"/><circle cx="647.58" cy="881.74" r="2.0"/><circle cx="648.4" cy="881.9" r="2.0"/><circle cx="649.25" cy="882.75" r="2.0"/><circle cx="650.1" cy="883.6" r="2.0"/><circle cx="650.95" cy="884.45" r="2.0"/><circle cx="651.8" cy="885.3" r="2.0"/><circle cx="652.63" cy="882.77" r="2.0"/><circle cx="653.47" cy="880.23" r="2.0"/><circle cx="654.3" cy="877.7" r="2.0"/><circle cx="655.3" cy="878.2" r="2.0"/><circle cx="656.3" cy="878.7" r="2.0"/><circle cx="657.3" cy="879.2" r="2.0"/><circle cx="658.3" cy="879.7" r="2.0"/><circle cx="659.3" cy="880.2" r="2.0"/><circle cx="660.1" cy="880.65" r="2.0"/><circle cx="660.9" cy="881.1" r="2.0"/><circle cx="661.75" cy="879.42" r="2.0"/><circle cx="662.6" cy="877.75" r="2.0"/><circle cx="663.45" cy="876.08" r="2.0"/><circle cx="664.3" cy="874.4" r="2.0"/><circle cx="666.3" cy="864.8" r="2.0"/><circle cx="666.95" cy="867.1" r="2.0"/><circle cx="667.6" cy="869.4" r="2.0"/><circle cx="668.42" cy="871.08" r="2.0"/><circle cx="669.25" cy="872.75" r="2.0"/><circle cx="670.07" cy="874.42" r="2.0"/><circle cx="670.9" cy="876.1" r="2.0"/><circle cx="671.74" cy="875.6" r="2.0"/><circle cx="672.58" cy="875.1" r="2.0"/><circle cx="673.42" cy="874.6" r="2.0"/><circle cx="674.26" cy="874.1" r="2.0"/><circle cx="675.1" cy="873.6" r="2.0"/><circle cx="675.94" cy="873.44" r="2.0"/><circle cx="676.78" cy="873.28" r="2.0"/><circle cx="677.62" cy="873.12" r="2.0"/><circle cx="678.46" cy="872.96" r="2.0"/><circle cx="679.3" cy="872.8" r="2.0"/><circle cx="680.3" cy="874.3" r="2.0"/><circle cx="681.3" cy="875.8" r="2.0"/><circle cx="682.3" cy="877.3" r="2.0"/><circle cx="683.3" cy="878.8" r="2.0"/><circle cx="684.3" cy="880.3" r="2.0"/><circle cx="685.15" cy="879.45" r="2.0"/><circle cx="686" cy="878.6" r="2.0"/><circle cx="686.85" cy="877.75" r="2.0"/><circle cx="687.7" cy="876.9" r="2.0"/><circle cx="689.3" cy="870.2" r="2.0"/><circle cx="690.13" cy="868.53" r="2.0"/><circle cx="690.97" cy="866.87" r="2.0"/><circle cx="691.8" cy="865.2" r="2.0"/><circle cx="692.67" cy="865.9" r="2.0"/><circle cx="693.53" cy="866.6" r="2.0"/><circle cx="694.4" cy="867.3" r="2.0"/><circle cx="696" cy="856.9" r="2.0"/><circle cx="696.85" cy="859.6" r="2.0"/><circle cx="697.7" cy="862.3" r="2.0"/><circle cx="698.7" cy="862.56" r="2.0"/><circle cx="699.7" cy="862.82" r="2.0"/><circle cx="700.7" cy="863.08" r="2.0"/><circle cx="701.7" cy="863.34" r="2.0"/><circle cx="702.7" cy="863.6" r="2.0"/><circle cx="703.6" cy="874.4" r="2.0"/><circle cx="704.6" cy="875.58" r="2.0"/><circle cx="705.6" cy="876.76" r="2.0"/><circle cx="706.6" cy="877.94" r="2.0"/><circle cx="707.6" cy="879.12" r="2.0"/><circle cx="708.6" cy="880.3" r="2.0"/><circle cx="709.42" cy="879.45" r="2.0"/><circle cx="710.25" cy="878.6" r="2.0"/><circle cx="711.07" cy="877.75" r="2.0"/><circle cx="711.9" cy="876.9" r="2.0"/><circle cx="712.75" cy="873.55" r="2.0"/><circle cx="713.6" cy="870.2" r="2.0"/><circle cx="714.43" cy="868.13" r="2.0"/><circle cx="715.27" cy="866.07" r="2.0"/><circle cx="716.1" cy="864" r="2.0"/><circle cx="717" cy="866.9" r="2.0"/><circle cx="717.5" cy="945.6" r="2.0"/><circle cx="718.42" cy="944" r="2.0"/><circle cx="719.34" cy="942.4" r="2.0"/><circle cx="720.26" cy="940.8" r="2.0"/><circle cx="721.18" cy="939.2" r="2.0"/><circle cx="722.1" cy="937.6" r="2.0"/><circle cx="722.99" cy="936.76" r="2.0"/><circle cx="723.87" cy="935.92" r="2.0"/><circle cx="724.76" cy="935.09" r="2.0"/><circle cx="725.65" cy="934.25" r="2.0"/><circle cx="726.54" cy="933.41" r="2.0"/><circle cx="727.42" cy="932.58" r="2.0"/><circle cx="728.31" cy="931.74" r="2.0"/><circle cx="729.2" cy="930.9" r="2.0"/><circle cx="729.7" cy="946" r="2.0"/><circle cx="730.52" cy="945.66" r="2.0"/><circle cx="731.34" cy="945.32" r="2.0"/><circle cx="732.16" cy="944.98" r="2.0"/><circle cx="732.98" cy="944.64" r="2.0"/><circle cx="733.8" cy="944.3" r="2.0"/><circle cx="734.8" cy="943.2" r="2.0"/><circle cx="735.8" cy="942.1" r="2.0"/><circle cx="736.8" cy="941" r="2.0"/><circle cx="737.72" cy="942.25" r="2.0"/><circle cx="738.65" cy="943.5" r="2.0"/><circle cx="739.57" cy="944.75" r="2.0"/><circle cx="740.5" cy="946" r="2.0"/><circle cx="741.34" cy="945.16" r="2.0"/><circle cx="742.18" cy="944.32" r="2.0"/><circle cx="743.02" cy="943.48" r="2.0"/><circle cx="743.86" cy="942.64" r="2.0"/><circle cx="744.7" cy="941.8" r="2.0"/><circle cx="745.55" cy="940.55" r="2.0"/><circle cx="746.4" cy="939.3" r="2.0"/><circle cx="747.25" cy="938.05" r="2.0"/><circle cx="748.1" cy="936.8" r="2.0"/><circle cx="749.02" cy="935.87" r="2.0"/><circle cx="749.94" cy="934.93" r="2.0"/><circle cx="750.87" cy="934" r="2.0"/><circle cx="751.79" cy="933.07" r="2.0"/><circle cx="752.71" cy="932.13" r="2.0"/><circle cx="753.63" cy="931.2" r="2.0"/><circle cx="754.56" cy="930.27" r="2.0"/><circle cx="755.48" cy="929.33" r="2.0"/><circle cx="756.4" cy="928.4" r="2.0"/><circle cx="757.05" cy="926.1" r="2.0"/><circle cx="757.7" cy="923.8" r="2.0"/><circle cx="758.67" cy="922.7" r="2.0"/><circle cx="759.63" cy="921.6" r="2.0"/><circle cx="760.6" cy="920.5" r="2.0"/><circle cx="761.54" cy="920.55" r="2.0"/><circle cx="762.47" cy="920.6" r="2.0"/><circle cx="763.41" cy="920.65" r="2.0"/><circle cx="764.35" cy="920.7" r="2.0"/><circle cx="765.29" cy="920.75" r="2.0"/><circle cx="766.22" cy="920.8" r="2.0"/><circle cx="767.16" cy="920.85" r="2.0"/><circle cx="768.1" cy="920.9" r="2.0"/><circle cx="769.1" cy="920.56" r="2.0"/><circle cx="770.1" cy="920.22" r="2.0"/><circle cx="771.1" cy="919.88" r="2.0"/><circle cx="772.1" cy="919.54" r="2.0"/><circle cx="773.1" cy="919.2" r="2.0"/><circle cx="773.95" cy="915.85" r="2.0"/><circle cx="774.8" cy="912.5" r="2.0"/><circle cx="775.78" cy="911.82" r="2.0"/><circle cx="776.77" cy="911.13" r="2.0"/><circle cx="777.75" cy="910.45" r="2.0"/><circle cx="778.73" cy="909.77" r="2.0"/><circle cx="779.72" cy="909.08" r="2.0"/><circle cx="780.7" cy="908.4" r="2.0"/><circle cx="781" cy="879.2" r="2.0"/><circle cx="781.9" cy="874.2" r="2.0"/><circle cx="782.73" cy="874.4" r="2.0"/><circle cx="783.55" cy="874.6" r="2.0"/><circle cx="784.38" cy="874.8" r="2.0"/><circle cx="785.2" cy="875" r="2.0"/><circle cx="786.03" cy="874.17" r="2.0"/><circle cx="786.85" cy="873.35" r="2.0"/><circle cx="787.67" cy="872.53" r="2.0"/><circle cx="788.5" cy="871.7" r="2.0"/><circle cx="789.34" cy="872.54" r="2.0"/><circle cx="790.18" cy="873.38" r="2.0"/><circle cx="791.02" cy="874.22" r="2.0"/><circle cx="791.86" cy="875.06" r="2.0"/><circle cx="792.7" cy="875.9" r="2.0"/><circle cx="793.68" cy="876.32" r="2.0"/><circle cx="794.67" cy="876.73" r="2.0"/><circle cx="795.65" cy="877.15" r="2.0"/><circle cx="796.63" cy="877.57" r="2.0"/><circle cx="797.62" cy="877.98" r="2.0"/><circle cx="798.6" cy="878.4" r="2.0"/><circle cx="799.56" cy="878.29" r="2.0"/><circle cx="800.51" cy="878.17" r="2.0"/><circle cx="801.47" cy="878.06" r="2.0"/><circle cx="802.43" cy="877.94" r="2.0"/><circle cx="803.39" cy="877.83" r="2.0"/><circle cx="804.34" cy="877.71" r="2.0"/><circle cx="805.3" cy="877.6" r="2.0"/><circle cx="806.27" cy="878.02" r="2.0"/><circle cx="807.23" cy="878.43" r="2.0"/><circle cx="808.2" cy="878.85" r="2.0"/><circle cx="809.17" cy="879.27" r="2.0"/><circle cx="810.13" cy="879.68" r="2.0"/><circle cx="811.1" cy="880.1" r="2.0"/><circle cx="811.94" cy="880.84" r="2.0"/><circle cx="812.78" cy="881.58" r="2.0"/><circle cx="813.62" cy="882.32" r="2.0"/><circle cx="814.46" cy="883.06" r="2.0"/><circle cx="815.3" cy="883.8" r="2.0"/><circle cx="816.12" cy="884.12" r="2.0"/><circle cx="816.95" cy="884.45" r="2.0"/><circle cx="817.77" cy="884.77" r="2.0"/><circle cx="818.6" cy="885.1" r="2.0"/><circle cx="819.47" cy="886.77" r="2.0"/><circle cx="820.33" cy="888.43" r="2.0"/><circle cx="821.2" cy="890.1" r="2.0"/><circle cx="822.17" cy="891.2" r="2.0"/><circle cx="823.13" cy="892.3" r="2.0"/><circle cx="824.1" cy="893.4" r="2.0"/><circle cx="825.02" cy="892.77" r="2.0"/><circle cx="825.95" cy="892.15" r="2.0"/><circle cx="826.88" cy="891.52" r="2.0"/><circle cx="827.8" cy="890.9" r="2.0"/><circle cx="828.65" cy="891.12" r="2.0"/><circle cx="829.5" cy="891.35" r="2.0"/><circle cx="830.35" cy="891.57" r="2.0"/><circle cx="831.2" cy="891.8" r="2.0"/><circle cx="832.2" cy="890.96" r="2.0"/><circle cx="833.2" cy="890.12" r="2.0"/><circle cx="834.2" cy="889.28" r="2.0"/><circle cx="835.2" cy="888.44" r="2.0"/><circle cx="836.2" cy="887.6" r="2.0"/><circle cx="836.9" cy="888.17" r="2.0"/><circle cx="837.6" cy="888.73" r="2.0"/><circle cx="838.3" cy="889.3" r="2.0"/><circle cx="838.9" cy="891.35" r="2.0"/><circle cx="839.5" cy="893.4" r="2.0"/><circle cx="840.48" cy="893.97" r="2.0"/><circle cx="841.47" cy="894.53" r="2.0"/><circle cx="842.45" cy="895.1" r="2.0"/><circle cx="843.43" cy="895.67" r="2.0"/><circle cx="844.42" cy="896.23" r="2.0"/><circle cx="845.4" cy="896.8" r="2.0"/><circle cx="846.38" cy="897.22" r="2.0"/><circle cx="847.35" cy="897.65" r="2.0"/><circle cx="848.32" cy="898.08" r="2.0"/><circle cx="849.3" cy="898.5" r="2.0"/><circle cx="850.14" cy="897.16" r="2.0"/><circle cx="850.98" cy="895.82" r="2.0"/><circle cx="851.82" cy="894.48" r="2.0"/><circle cx="852.66" cy="893.14" r="2.0"/><circle cx="853.5" cy="891.8" r="2.0"/><circle cx="854.35" cy="893.05" r="2.0"/><circle cx="855.2" cy="894.3" r="2.0"/><circle cx="856.05" cy="895.55" r="2.0"/><circle cx="856.9" cy="896.8" r="2.0"/><circle cx="857.73" cy="897.85" r="2.0"/><circle cx="858.55" cy="898.9" r="2.0"/><circle cx="859.38" cy="899.95" r="2.0"/><circle cx="860.2" cy="901" r="2.0"/><circle cx="861.2" cy="900.16" r="2.0"/><circle cx="862.2" cy="899.32" r="2.0"/><circle cx="863.2" cy="898.48" r="2.0"/><circle cx="864.2" cy="897.64" r="2.0"/><circle cx="865.2" cy="896.8" r="2.0"/><circle cx="866.05" cy="897.65" r="2.0"/><circle cx="866.9" cy="898.5" r="2.0"/><circle cx="867.75" cy="899.35" r="2.0"/><circle cx="868.6" cy="900.2" r="2.0"/><circle cx="869.44" cy="898.68" r="2.0"/><circle cx="870.28" cy="897.16" r="2.0"/><circle cx="871.12" cy="895.64" r="2.0"/><circle cx="871.96" cy="894.12" r="2.0"/><circle cx="872.8" cy="892.6" r="2.0"/><circle cx="873.62" cy="892.28" r="2.0"/><circle cx="874.44" cy="891.96" r="2.0"/><circle cx="875.26" cy="891.64" r="2.0"/><circle cx="876.08" cy="891.32" r="2.0"/><circle cx="876.9" cy="891" r="2.0"/><circle cx="877.8" cy="885.1" r="2.0"/><circle cx="879" cy="880.1" r="2.0"/><circle cx="880.3" cy="874.2" r="2.0"/><circle cx="881.13" cy="873.67" r="2.0"/><circle cx="881.97" cy="873.13" r="2.0"/><circle cx="882.8" cy="872.6" r="2.0"/><circle cx="883.62" cy="873.65" r="2.0"/><circle cx="884.45" cy="874.7" r="2.0"/><circle cx="885.27" cy="875.75" r="2.0"/><circle cx="886.1" cy="876.8" r="2.0"/><circle cx="887.05" cy="877.52" r="2.0"/><circle cx="888" cy="878.25" r="2.0"/><circle cx="888.95" cy="878.98" r="2.0"/><circle cx="889.9" cy="879.7" r="2.0"/><circle cx="890.3" cy="898.5" r="2.0"/><circle cx="891" cy="899.07" r="2.0"/><circle cx="891.7" cy="899.63" r="2.0"/><circle cx="892.4" cy="900.2" r="2.0"/><circle cx="893.37" cy="898.8" r="2.0"/><circle cx="894.33" cy="897.4" r="2.0"/><circle cx="895.3" cy="896" r="2.0"/><circle cx="896.13" cy="894.6" r="2.0"/><circle cx="896.97" cy="893.2" r="2.0"/><circle cx="897.8" cy="891.8" r="2.0"/><circle cx="898.65" cy="891.6" r="2.0"/><circle cx="899.5" cy="891.4" r="2.0"/><circle cx="900.35" cy="891.2" r="2.0"/><circle cx="901.2" cy="891" r="2.0"/><circle cx="902" cy="885.1" r="2.0"/><circle cx="902.9" cy="880.1" r="2.0"/><circle cx="903.7" cy="877.6" r="2.0"/><circle cx="904.5" cy="875.1" r="2.0"/><circle cx="905.35" cy="874.67" r="2.0"/><circle cx="906.2" cy="874.25" r="2.0"/><circle cx="907.05" cy="873.83" r="2.0"/><circle cx="907.9" cy="873.4" r="2.0"/></g>
<g fill="#000">
<g transform="matrix(1.0273 0 0 1.0348 -1.4545 -0.9435)"><text x="22.5" y="30" font-family="'Liberation Sans', sans-serif" font-weight="bold" font-size="34">A</text></g>
<g transform="matrix(1.005 0 0 0.9957 -1.03 2.8739)"><text x="24" y="752.6" font-family="'Liberation Sans', sans-serif" font-weight="bold" font-size="33">B</text></g>
<g transform="matrix(1 0 0 1 -0.6 -0.2)"><text x="98.5" y="40.8" font-family="'Liberation Sans', sans-serif" font-size="35.5" text-anchor="end">4</text></g>
<g transform="matrix(1 0 0 1 0.4 0.05)"><text x="98.5" y="184.05" font-family="'Liberation Sans', sans-serif" font-size="35.5" text-anchor="end">3</text></g>
<g transform="matrix(1 0 0 1 0.4 0.3)"><text x="98.5" y="327.3" font-family="'Liberation Sans', sans-serif" font-size="35.5" text-anchor="end">2</text></g>
<g transform="matrix(1 0 0 1 0.4 -0.45)"><text x="98.5" y="470.55" font-family="'Liberation Sans', sans-serif" font-size="35.5" text-anchor="end">1</text></g>
<g transform="matrix(1 0 0 1 0.4 -0.2)"><text x="98.5" y="613.8" font-family="'Liberation Sans', sans-serif" font-size="35.5" text-anchor="end">0</text></g>
<g transform="matrix(1 0 0 1 0.6 -0.5)"><text x="98.5" y="777.5" font-family="'Liberation Sans', sans-serif" font-size="35.5" text-anchor="end">34</text></g>
<g transform="matrix(1 0 0 1 1.6 0.15)"><text x="98.5" y="849.15" font-family="'Liberation Sans', sans-serif" font-size="35.5" text-anchor="end">32</text></g>
<g transform="matrix(1 0 0 1 1.6 -0.2)"><text x="98.5" y="920.8" font-family="'Liberation Sans', sans-serif" font-size="35.5" text-anchor="end">30</text></g>
<g transform="matrix(1 0 0 1 1.6 0.45)"><text x="98.5" y="992.45" font-family="'Liberation Sans', sans-serif" font-size="35.5" text-anchor="end">28</text></g>
<g transform="matrix(1 0 0 1 1.6 0.1)"><text x="98.5" y="1064.1" font-family="'Liberation Sans', sans-serif" font-size="35.5" text-anchor="end">26</text></g>
<g transform="matrix(1 0 0 1 0.6 -0.25)"><text x="98.5" y="1135.75" font-family="'Liberation Sans', sans-serif" font-size="35.5" text-anchor="end">24</text></g>
<g transform="matrix(1 0 0 1 1.6 0.4)"><text x="98.5" y="1207.4" font-family="'Liberation Sans', sans-serif" font-size="35.5" text-anchor="end">22</text></g>
<g transform="matrix(1 0 0 1 1.6 0.05)"><text x="98.5" y="1279.05" font-family="'Liberation Sans', sans-serif" font-size="35.5" text-anchor="end">20</text></g>
<g transform="matrix(1 0 0 1 1.6 -0.3)"><text x="98.5" y="1350.7" font-family="'Liberation Sans', sans-serif" font-size="35.5" text-anchor="end">18</text></g>
<g transform="matrix(1 0 0 0.9587 0 24.2111)"><text transform="translate(153.4 621.5) rotate(-90)" font-family="'Liberation Sans', sans-serif" font-size="25" text-anchor="end">19 Jul</text></g>
<g transform="matrix(1 0 0 1.0023 0 -2.9602)"><text transform="translate(177.3 621.5) rotate(-90)" font-family="'Liberation Sans', sans-serif" font-size="25" text-anchor="end">20 Jul</text></g>
<g transform="matrix(1 0 0 0.9437 0 33.5438)"><text transform="translate(201.2 621.5) rotate(-90)" font-family="'Liberation Sans', sans-serif" font-size="25" text-anchor="end">21 Jul</text></g>
<g transform="matrix(1 0 0 1.0023 0 -2.9602)"><text transform="translate(225.1 621.5) rotate(-90)" font-family="'Liberation Sans', sans-serif" font-size="25" text-anchor="end">22 Jul</text></g>
<g transform="matrix(1 0 0 1.0023 0 -2.9602)"><text transform="translate(249 621.5) rotate(-90)" font-family="'Liberation Sans', sans-serif" font-size="25" text-anchor="end">23 Jul</text></g>
<g transform="matrix(1 0 0 1.0023 0 -2.9602)"><text transform="translate(272.9 621.5) rotate(-90)" font-family="'Liberation Sans', sans-serif" font-size="25" text-anchor="end">24 Jul</text></g>
<g transform="matrix(1 0 0 1.0023 0 -2.9602)"><text transform="translate(296.8 621.5) rotate(-90)" font-family="'Liberation Sans', sans-serif" font-size="25" text-anchor="end">25 Jul</text></g>
<g transform="matrix(1 0 0 1.0023 0 -2.9602)"><text transform="translate(320.7 621.5) rotate(-90)" font-family="'Liberation Sans', sans-serif" font-size="25" text-anchor="end">26 Jul</text></g>
<g transform="matrix(1 0 0 1.0023 0 -2.9602)"><text transform="translate(344.6 621.5) rotate(-90)" font-family="'Liberation Sans', sans-serif" font-size="25" text-anchor="end">27 Jul</text></g>
<g transform="matrix(1 0 0 1.0023 0 -2.9602)"><text transform="translate(368.5 621.5) rotate(-90)" font-family="'Liberation Sans', sans-serif" font-size="25" text-anchor="end">28 Jul</text></g>
<g transform="matrix(1 0 0 1.0023 0 -2.9602)"><text transform="translate(392.4 621.5) rotate(-90)" font-family="'Liberation Sans', sans-serif" font-size="25" text-anchor="end">29 Jul</text></g>
<g transform="matrix(1 0 0 1.0023 0 -2.9602)"><text transform="translate(416.3 621.5) rotate(-90)" font-family="'Liberation Sans', sans-serif" font-size="25" text-anchor="end">30 Jul</text></g>
<g transform="matrix(1 0 0 0.9437 0 33.5438)"><text transform="translate(440.2 621.5) rotate(-90)" font-family="'Liberation Sans', sans-serif" font-size="25" text-anchor="end">31 Jul</text></g>
<g transform="matrix(1 0 0 0.9017 0 59.2617)"><text transform="translate(464.1 621) rotate(-90)" font-family="'Liberation Sans', sans-serif" font-size="25" text-anchor="end">1 Aug</text></g>
<g transform="matrix(1 0 0 0.9484 0 30.1713)"><text transform="translate(488 621) rotate(-90)" font-family="'Liberation Sans', sans-serif" font-size="25" text-anchor="end">2 Aug</text></g>
<g transform="matrix(1 0 0 0.9484 0 30.1713)"><text transform="translate(511.9 621) rotate(-90)" font-family="'Liberation Sans', sans-serif" font-size="25" text-anchor="end">3 Aug</text></g>
<g transform="matrix(1 0 0 0.9484 0 30.1713)"><text transform="translate(535.8 621) rotate(-90)" font-family="'Liberation Sans', sans-serif" font-size="25" text-anchor="end">4 Aug</text></g>
<g transform="matrix(1 0 0 0.9484 0 30.1713)"><text transform="translate(559.7 621) rotate(-90)" font-family="'Liberation Sans', sans-serif" font-size="25" text-anchor="end">5 Aug</text></g>
<g transform="matrix(1 0 0 0.9484 0 30.1713)"><text transform="translate(583.6 621) rotate(-90)" font-family="'Liberation Sans', sans-serif" font-size="25" text-anchor="end">6 Aug</text></g>
<g transform="matrix(1 0 0 0.9484 0 30.1713)"><text transform="translate(607.5 621) rotate(-90)" font-family="'Liberation Sans', sans-serif" font-size="25" text-anchor="end">7 Aug</text></g>
<g transform="matrix(1 0 0 0.9484 0 30.1713)"><text transform="translate(631.4 621) rotate(-90)" font-family="'Liberation Sans', sans-serif" font-size="25" text-anchor="end">8 Aug</text></g>
<g transform="matrix(1 0 0 0.9484 0 30.1713)"><text transform="translate(655.3 621) rotate(-90)" font-family="'Liberation Sans', sans-serif" font-size="25" text-anchor="end">9 Aug</text></g>
<g transform="matrix(1 0 0 0.9209 0 47.2507)"><text transform="translate(679.2 621) rotate(-90)" font-family="'Liberation Sans', sans-serif" font-size="25" text-anchor="end">10 Aug</text></g>
<g transform="matrix(1 0 0 0.8944 0 63.7611)"><text transform="translate(703.1 621) rotate(-90)" font-family="'Liberation Sans', sans-serif" font-size="25" text-anchor="end">11 Aug</text></g>
<g transform="matrix(1 0 0 0.9209 0 47.2507)"><text transform="translate(727 621) rotate(-90)" font-family="'Liberation Sans', sans-serif" font-size="25" text-anchor="end">12 Aug</text></g>
<g transform="matrix(1 0 0 0.9209 0 47.2507)"><text transform="translate(750.9 621) rotate(-90)" font-family="'Liberation Sans', sans-serif" font-size="25" text-anchor="end">13 Aug</text></g>
<g transform="matrix(1 0 0 0.9209 0 47.2507)"><text transform="translate(774.8 621) rotate(-90)" font-family="'Liberation Sans', sans-serif" font-size="25" text-anchor="end">14 Aug</text></g>
<g transform="matrix(1 0 0 0.9209 0 47.2507)"><text transform="translate(798.7 621) rotate(-90)" font-family="'Liberation Sans', sans-serif" font-size="25" text-anchor="end">15 Aug</text></g>
<g transform="matrix(1 0 0 0.9209 0 47.2507)"><text transform="translate(822.6 621) rotate(-90)" font-family="'Liberation Sans', sans-serif" font-size="25" text-anchor="end">16 Aug</text></g>
<g transform="matrix(1 0 0 0.9209 0 47.2507)"><text transform="translate(846.5 621) rotate(-90)" font-family="'Liberation Sans', sans-serif" font-size="25" text-anchor="end">17 Aug</text></g>
<g transform="matrix(1 0 0 0.9209 0 47.2507)"><text transform="translate(870.4 621) rotate(-90)" font-family="'Liberation Sans', sans-serif" font-size="25" text-anchor="end">18 Aug</text></g>
<g transform="matrix(1 0 0 0.9209 0 47.2507)"><text transform="translate(894.3 621) rotate(-90)" font-family="'Liberation Sans', sans-serif" font-size="25" text-anchor="end">19 Aug</text></g>
<g transform="matrix(1 0 0 0.9716 0 15.6797)"><text transform="translate(918.2 621) rotate(-90)" font-family="'Liberation Sans', sans-serif" font-size="25" text-anchor="end">20 Aug</text></g>
<g transform="matrix(1 0 0 0.9209 0 47.2507)"><text transform="translate(942.1 621) rotate(-90)" font-family="'Liberation Sans', sans-serif" font-size="25" text-anchor="end">21 Aug</text></g>
<g transform="matrix(1 0 0 0.9587 0 54.527)"><text transform="translate(155 1358.4) rotate(-90)" font-family="'Liberation Sans', sans-serif" font-size="25" text-anchor="end">19 Jul</text></g>
<g transform="matrix(1 0 0 1.0023 0 -4.7875)"><text transform="translate(178.89 1358.4) rotate(-90)" font-family="'Liberation Sans', sans-serif" font-size="25" text-anchor="end">20 Jul</text></g>
<g transform="matrix(1 0 0 0.9438 0 74.9)"><text transform="translate(202.78 1358.4) rotate(-90)" font-family="'Liberation Sans', sans-serif" font-size="25" text-anchor="end">21 Jul</text></g>
<g transform="matrix(1 0 0 1.0023 0 -4.7875)"><text transform="translate(226.67 1358.4) rotate(-90)" font-family="'Liberation Sans', sans-serif" font-size="25" text-anchor="end">22 Jul</text></g>
<g transform="matrix(1 0 0 1.0023 0 -4.7875)"><text transform="translate(250.56 1358.4) rotate(-90)" font-family="'Liberation Sans', sans-serif" font-size="25" text-anchor="end">23 Jul</text></g>
<g transform="matrix(1 0 0 1.0023 0 -4.7875)"><text transform="translate(274.45 1358.4) rotate(-90)" font-family="'Liberation Sans', sans-serif" font-size="25" text-anchor="end">24 Jul</text></g>
<g transform="matrix(1 0 0 1.0023 0 -4.7875)"><text transform="translate(298.34 1358.4) rotate(-90)" font-family="'Liberation Sans', sans-serif" font-size="25" text-anchor="end">25 Jul</text></g>
<g transform="matrix(1 0 0 1.0023 0 -4.7875)"><text transform="translate(322.23 1358.4) rotate(-90)" font-family="'Liberation Sans', sans-serif" font-size="25" text-anchor="end">26 Jul</text></g>
<g transform="matrix(1 0 0 1.0023 0 -4.7875)"><text transform="translate(346.12 1358.4) rotate(-90)" font-family="'Liberation Sans', sans-serif" font-size="25" text-anchor="end">27 Jul</text></g>
<g transform="matrix(1 0 0 1.0023 0 -4.7875)"><text transform="translate(370.01 1358.4) rotate(-90)" font-family="'Liberation Sans', sans-serif" font-size="25" text-anchor="end">28 Jul</text></g>
<g transform="matrix(1 0 0 1.0023 0 -4.7875)"><text transform="translate(393.9 1358.4) rotate(-90)" font-family="'Liberation Sans', sans-serif" font-size="25" text-anchor="end">29 Jul</text></g>
<g transform="matrix(1 0 0 1.0023 0 -4.7875)"><text transform="translate(417.79 1358.4) rotate(-90)" font-family="'Liberation Sans', sans-serif" font-size="25" text-anchor="end">30 Jul</text></g>
<g transform="matrix(1 0 0 0.9438 0 74.9)"><text transform="translate(441.68 1358.4) rotate(-90)" font-family="'Liberation Sans', sans-serif" font-size="25" text-anchor="end">31 Jul</text></g>
<g transform="matrix(1 0 0 0.8869 0 152.623)"><text transform="translate(465.57 1357.9) rotate(-90)" font-family="'Liberation Sans', sans-serif" font-size="25" text-anchor="end">1 Aug</text></g>
<g transform="matrix(1 0 0 0.9484 0 69.0779)"><text transform="translate(489.46 1357.9) rotate(-90)" font-family="'Liberation Sans', sans-serif" font-size="25" text-anchor="end">2 Aug</text></g>
<g transform="matrix(1 0 0 0.9484 0 69.0779)"><text transform="translate(513.35 1357.9) rotate(-90)" font-family="'Liberation Sans', sans-serif" font-size="25" text-anchor="end">3 Aug</text></g>
<g transform="matrix(1 0 0 0.9331 0 89.8653)"><text transform="translate(537.24 1357.9) rotate(-90)" font-family="'Liberation Sans', sans-serif" font-size="25" text-anchor="end">4 Aug</text></g>
<g transform="matrix(1 0 0 0.9331 0 89.8653)"><text transform="translate(561.13 1357.9) rotate(-90)" font-family="'Liberation Sans', sans-serif" font-size="25" text-anchor="end">5 Aug</text></g>
<g transform="matrix(1 0 0 0.9331 0 89.8653)"><text transform="translate(585.02 1357.9) rotate(-90)" font-family="'Liberation Sans', sans-serif" font-size="25" text-anchor="end">6 Aug</text></g>
<g transform="matrix(1 0 0 0.9484 0 69.0779)"><text transform="translate(608.91 1357.9) rotate(-90)" font-family="'Liberation Sans', sans-serif" font-size="25" text-anchor="end">7 Aug</text></g>
<g transform="matrix(1 0 0 0.9331 0 89.8653)"><text transform="translate(632.8 1357.9) rotate(-90)" font-family="'Liberation Sans', sans-serif" font-size="25" text-anchor="end">8 Aug</text></g>
<g transform="matrix(1 0 0 0.9331 0 89.8653)"><text transform="translate(656.69 1357.9) rotate(-90)" font-family="'Liberation Sans', sans-serif" font-size="25" text-anchor="end">9 Aug</text></g>
<g transform="matrix(1 0 0 0.9087 0 123.022)"><text transform="translate(680.58 1357.9) rotate(-90)" font-family="'Liberation Sans', sans-serif" font-size="25" text-anchor="end">10 Aug</text></g>
<g transform="matrix(1 0 0 0.8822 0 159.0014)"><text transform="translate(704.47 1357.9) rotate(-90)" font-family="'Liberation Sans', sans-serif" font-size="25" text-anchor="end">11 Aug</text></g>
<g transform="matrix(1 0 0 0.9087 0 123.022)"><text transform="translate(728.36 1357.9) rotate(-90)" font-family="'Liberation Sans', sans-serif" font-size="25" text-anchor="end">12 Aug</text></g>
<g transform="matrix(1 0 0 0.9087 0 123.022)"><text transform="translate(752.25 1357.9) rotate(-90)" font-family="'Liberation Sans', sans-serif" font-size="25" text-anchor="end">13 Aug</text></g>
<g transform="matrix(1 0 0 0.9087 0 123.022)"><text transform="translate(776.14 1357.9) rotate(-90)" font-family="'Liberation Sans', sans-serif" font-size="25" text-anchor="end">14 Aug</text></g>
<g transform="matrix(1 0 0 0.9087 0 123.022)"><text transform="translate(800.03 1357.9) rotate(-90)" font-family="'Liberation Sans', sans-serif" font-size="25" text-anchor="end">15 Aug</text></g>
<g transform="matrix(1 0 0 0.9087 0 123.022)"><text transform="translate(823.92 1357.9) rotate(-90)" font-family="'Liberation Sans', sans-serif" font-size="25" text-anchor="end">16 Aug</text></g>
<g transform="matrix(1 0 0 0.9087 0 123.022)"><text transform="translate(847.81 1357.9) rotate(-90)" font-family="'Liberation Sans', sans-serif" font-size="25" text-anchor="end">17 Aug</text></g>
<g transform="matrix(1 0 0 0.9087 0 123.022)"><text transform="translate(871.7 1357.9) rotate(-90)" font-family="'Liberation Sans', sans-serif" font-size="25" text-anchor="end">18 Aug</text></g>
<g transform="matrix(1 0 0 0.9087 0 123.022)"><text transform="translate(895.59 1357.9) rotate(-90)" font-family="'Liberation Sans', sans-serif" font-size="25" text-anchor="end">19 Aug</text></g>
<g transform="matrix(1 0 0 0.9587 0 55.072)"><text transform="translate(919.48 1357.9) rotate(-90)" font-family="'Liberation Sans', sans-serif" font-size="25" text-anchor="end">20 Aug</text></g>
<g transform="matrix(1 0 0 0.9087 0 123.022)"><text transform="translate(943.37 1357.9) rotate(-90)" font-family="'Liberation Sans', sans-serif" font-size="25" text-anchor="end">21 Aug</text></g>
<g transform="matrix(0.9808 0 0 0.9274 1.3808 39.4192)"><text transform="translate(51.4 505.9) rotate(-90)" font-family="'Liberation Sans', sans-serif" font-size="35">Dissolved</text></g>
<g transform="matrix(1 0 0 0.9162 0 31.4188)"><text transform="translate(51.4 357.6) rotate(-90)" font-family="'Liberation Sans', sans-serif" font-size="35">Oxygen</text></g>
<g transform="matrix(0.9515 0 0 1.15 1.5121 -32.5)"><text transform="translate(51.4 236.6) rotate(-90)" font-family="'Liberation Sans', sans-serif" font-size="35">(</text></g>
<g transform="matrix(1 0 0 0.8182 0 42.6636)"><text transform="translate(51.4 224.3) rotate(-90)" font-family="'Liberation Sans', sans-serif" font-size="35">mg</text></g>
<g transform="matrix(1.0208 0 0 0.925 -0.8625 15.625)"><text transform="translate(51.4 173.8) rotate(-90)" font-family="'Liberation Sans', sans-serif" font-size="35">L</text></g>
<g transform="matrix(1 0 0 0.6733 0.2 48.56)"><text transform="translate(36.2 143.5) rotate(-90)" font-family="'Liberation Sans', sans-serif" font-size="35">1</text></g>
<g transform="matrix(0.9485 0 0 1.1875 1.2879 -23.0875)"><text transform="translate(51.4 130.1) rotate(-90)" font-family="'Liberation Sans', sans-serif" font-size="35">)</text></g>
<g transform="matrix(1 0 0 1.0258 0 -29.7032)"><text transform="translate(32.4 1182.8) rotate(-90)" font-family="'Liberation Sans', sans-serif" font-size="33.5">Temperature</text></g>
<g transform="matrix(1.0097 0 0 1.1 -0.8774 -95.5)"><text transform="translate(32.2 979.2) rotate(-90)" font-family="'Liberation Sans', sans-serif" font-size="33.5">(</text></g>
<g transform="matrix(1.3625 0 0 1.2111 -20.95 -200.6444)"><text transform="translate(40 959.6) rotate(-90)" font-family="'Liberation Sans', sans-serif" font-size="30">°</text></g>
<g transform="matrix(1.0348 0 0 0.7364 -0.713 250.5727)"><text transform="translate(32.2 945.7) rotate(-90)" font-family="'Liberation Sans', sans-serif" font-size="33.5" font-style="italic">C</text></g>
<g transform="matrix(1.0226 0 0 1.225 -0.8806 -207.35)"><text transform="translate(32.2 927) rotate(-90)" font-family="'Liberation Sans', sans-serif" font-size="33.5">)</text></g>
</g>
<rect x="26.7" y="149" width="1.8" height="8" fill="#000"/>
</svg></body></html>
